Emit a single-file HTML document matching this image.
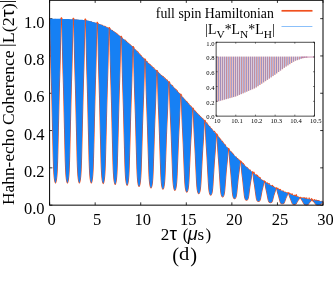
<!DOCTYPE html>
<html><head><meta charset="utf-8"><title>Hahn-echo Coherence</title>
<style>
html,body{margin:0;padding:0;background:#fff;}
body{width:333px;height:290px;overflow:hidden;position:relative;font-family:"Liberation Serif",serif;}
</style></head><body>
<svg width="333" height="290" viewBox="0 0 333 290" style="position:absolute;left:0;top:0;will-change:transform"><g stroke="#000" stroke-width="0.8" fill="none"><line x1="49.60" y1="205.15" x2="49.60" y2="202.35"/><line x1="49.60" y1="0.3" x2="49.60" y2="2.9"/><line x1="95.17" y1="205.15" x2="95.17" y2="202.35"/><line x1="95.17" y1="0.3" x2="95.17" y2="2.9"/><line x1="140.73" y1="205.15" x2="140.73" y2="202.35"/><line x1="140.73" y1="0.3" x2="140.73" y2="2.9"/><line x1="186.30" y1="205.15" x2="186.30" y2="202.35"/><line x1="186.30" y1="0.3" x2="186.30" y2="2.9"/><line x1="231.87" y1="205.15" x2="231.87" y2="202.35"/><line x1="231.87" y1="0.3" x2="231.87" y2="2.9"/><line x1="277.43" y1="205.15" x2="277.43" y2="202.35"/><line x1="277.43" y1="0.3" x2="277.43" y2="2.9"/><line x1="323.00" y1="205.15" x2="323.00" y2="202.35"/><line x1="323.00" y1="0.3" x2="323.00" y2="2.9"/><line x1="49.6" y1="205.15" x2="52.4" y2="205.15"/><line x1="323.0" y1="205.15" x2="320.2" y2="205.15"/><line x1="49.6" y1="167.85" x2="52.4" y2="167.85"/><line x1="323.0" y1="167.85" x2="320.2" y2="167.85"/><line x1="49.6" y1="130.55" x2="52.4" y2="130.55"/><line x1="323.0" y1="130.55" x2="320.2" y2="130.55"/><line x1="49.6" y1="93.25" x2="52.4" y2="93.25"/><line x1="323.0" y1="93.25" x2="320.2" y2="93.25"/><line x1="49.6" y1="55.95" x2="52.4" y2="55.95"/><line x1="323.0" y1="55.95" x2="320.2" y2="55.95"/><line x1="49.6" y1="18.65" x2="52.4" y2="18.65"/><line x1="323.0" y1="18.65" x2="320.2" y2="18.65"/></g><path d="M49.92,18.61L50.03,24.09L50.13,29.57L50.23,35.05L50.33,40.54L50.45,46.02L50.57,51.50L50.69,56.98L50.83,62.46L50.97,67.94L51.13,73.42L51.30,78.90L51.46,84.39L51.61,89.87L51.76,95.35L51.90,100.83L52.03,106.31L52.15,111.79L52.28,117.26L52.40,122.74L52.53,128.22L52.66,133.70L52.79,139.18L52.92,144.66L53.05,150.14L53.18,155.61L53.33,161.09L53.52,166.57L53.57,167.66L53.62,168.76L53.67,169.86L53.73,170.95L53.79,172.05L53.86,173.14L53.93,174.24L54.02,175.33L54.11,176.43L54.22,177.52L54.35,178.62L54.50,179.71L54.69,180.81L54.97,181.90L55.47,183.00L55.47,183.00L55.97,181.91L56.25,180.81L56.44,179.72L56.59,178.62L56.72,177.53L56.83,176.43L56.92,175.34L57.01,174.24L57.08,173.15L57.15,172.05L57.21,170.96L57.27,169.86L57.32,168.77L57.37,167.67L57.41,166.58L57.61,161.11L57.76,155.63L57.89,150.16L58.02,144.69L58.15,139.22L58.28,133.74L58.41,128.27L58.54,122.80L58.66,117.33L58.79,111.86L58.91,106.39L59.04,100.92L59.18,95.45L59.33,89.98L59.48,84.51L59.64,79.04L59.81,73.57L59.97,68.10L60.11,62.63L60.25,57.16L60.37,51.69L60.49,46.23L60.61,40.76L60.71,35.29L60.81,29.82L60.91,24.35L61.02,18.89M61.86,18.91L61.97,24.38L62.07,29.86L62.16,35.33L62.27,40.80L62.39,46.27L62.51,51.74L62.63,57.21L62.77,62.69L62.91,68.16L63.07,73.63L63.24,79.10L63.40,84.57L63.55,90.04L63.70,95.51L63.84,100.98L63.97,106.45L64.09,111.92L64.22,117.39L64.34,122.86L64.47,128.33L64.60,133.80L64.73,139.26L64.86,144.73L64.99,150.20L65.12,155.67L65.27,161.13L65.47,166.60L65.51,167.69L65.56,168.79L65.61,169.88L65.67,170.97L65.73,172.07L65.80,173.16L65.87,174.25L65.96,175.35L66.05,176.44L66.16,177.53L66.29,178.63L66.44,179.72L66.63,180.81L66.91,181.91L67.41,183.00L67.41,183.00L67.91,181.91L68.19,180.81L68.38,179.72L68.53,178.63L68.66,177.54L68.77,176.44L68.86,175.35L68.95,174.26L69.02,173.17L69.09,172.08L69.15,170.98L69.21,169.89L69.26,168.80L69.31,167.71L69.35,166.61L69.55,161.15L69.70,155.69L69.83,150.23L69.96,144.77L70.09,139.31L70.22,133.85L70.35,128.39L70.48,122.93L70.60,117.47L70.73,112.01L70.85,106.55L70.98,101.10L71.12,95.64L71.27,90.18L71.42,84.73L71.58,79.27L71.75,73.82L71.91,68.36L72.05,62.91L72.19,57.45L72.31,52.00L72.43,46.54L72.55,41.09L72.66,35.64L72.75,30.18L72.85,24.73L72.95,19.28M73.80,19.31L73.91,24.78L74.01,30.24L74.10,35.70L74.21,41.16L74.33,46.62L74.45,52.08L74.57,57.54L74.71,63.00L74.85,68.46L75.01,73.92L75.18,79.37L75.34,84.83L75.49,90.29L75.64,95.75L75.78,101.21L75.91,106.66L76.03,112.12L76.16,117.57L76.28,123.03L76.41,128.48L76.54,133.94L76.67,139.39L76.80,144.84L76.93,150.30L77.06,155.75L77.21,161.20L77.41,166.65L77.45,167.74L77.50,168.83L77.55,169.92L77.61,171.01L77.67,172.10L77.74,173.19L77.81,174.28L77.90,175.37L77.99,176.46L78.10,177.55L78.23,178.64L78.38,179.73L78.57,180.82L78.85,181.91L79.35,183.00L79.35,183.00L79.85,181.91L80.13,180.82L80.32,179.73L80.47,178.65L80.60,177.56L80.71,176.47L80.80,175.38L80.89,174.29L80.96,173.21L81.03,172.12L81.09,171.03L81.15,169.94L81.20,168.85L81.25,167.77L81.29,166.68L81.49,161.24L81.64,155.80L81.77,150.36L81.90,144.93L82.03,139.49L82.16,134.06L82.29,128.62L82.42,123.19L82.54,117.76L82.67,112.33L82.79,106.90L82.92,101.47L83.06,96.04L83.21,90.61L83.36,85.18L83.52,79.76L83.69,74.34L83.85,68.92L83.99,63.50L84.13,58.07L84.25,52.65L84.37,47.23L84.49,41.81L84.59,36.39L84.69,30.97L84.79,25.56L84.89,20.14M85.74,20.25L85.85,25.69L85.95,31.12L86.04,36.56L86.15,42.00L86.27,47.44L86.39,52.88L86.51,58.31L86.65,63.75L86.79,69.19L86.95,74.63L87.12,80.07L87.28,85.50L87.43,90.94L87.58,96.37L87.72,101.80L87.85,107.22L87.97,112.65L88.10,118.07L88.22,123.49L88.35,128.91L88.48,134.33L88.61,139.74L88.74,145.16L88.87,150.57L89.00,155.98L89.15,161.39L89.34,166.80L89.39,167.88L89.44,168.96L89.49,170.04L89.55,171.12L89.61,172.20L89.68,173.28L89.75,174.36L89.84,175.44L89.93,176.52L90.04,177.60L90.17,178.68L90.32,179.76L90.51,180.84L90.79,181.92L91.29,183.00L91.29,183.00L91.79,181.92L92.07,180.85L92.26,179.78L92.41,178.70L92.54,177.63L92.65,176.56L92.74,175.48L92.83,174.41L92.90,173.34L92.97,172.27L93.03,171.19L93.09,170.12L93.14,169.05L93.19,167.98L93.23,166.91L93.43,161.55L93.58,156.20L93.71,150.85L93.84,145.50L93.97,140.15L94.10,134.81L94.23,129.46L94.36,124.13L94.48,118.79L94.61,113.46L94.73,108.13L94.86,102.80L95.00,97.48L95.15,92.16L95.30,86.85L95.46,81.54L95.63,76.23L95.79,70.93L95.93,65.63L96.07,60.33L96.19,55.03L96.31,49.73L96.43,44.43L96.53,39.13L96.63,33.83L96.73,28.54L96.83,23.25M97.68,23.53L97.79,28.90L97.89,34.26L97.98,39.63L98.09,44.99L98.21,50.35L98.33,55.72L98.45,61.08L98.59,66.44L98.73,71.80L98.89,77.16L99.06,82.52L99.22,87.87L99.37,93.22L99.52,98.57L99.66,103.91L99.79,109.24L99.91,114.57L100.04,119.90L100.16,125.22L100.29,130.55L100.42,135.86L100.55,141.18L100.68,146.49L100.81,151.80L100.94,157.11L101.09,162.41L101.28,167.71L101.33,168.77L101.38,169.83L101.43,170.89L101.49,171.95L101.55,173.01L101.62,174.07L101.69,175.13L101.78,176.19L101.87,177.24L101.98,178.30L102.11,179.36L102.26,180.42L102.45,181.47L102.73,182.53L103.23,183.58L103.23,183.58L103.73,182.53L104.01,181.48L104.20,180.43L104.35,179.39L104.48,178.34L104.59,177.29L104.68,176.25L104.77,175.20L104.84,174.15L104.91,173.11L104.97,172.06L105.03,171.02L105.08,169.97L105.13,168.93L105.17,167.88L105.37,162.66L105.52,157.44L105.65,152.22L105.78,147.01L105.91,141.80L106.04,136.60L106.17,131.40L106.30,126.21L106.42,121.02L106.55,115.83L106.67,110.65L106.80,105.47L106.94,100.30L107.09,95.14L107.24,89.98L107.40,84.83L107.57,79.69L107.73,74.55L107.87,69.42L108.01,64.28L108.13,59.15L108.25,54.01L108.37,48.88L108.47,43.75L108.57,38.62L108.67,33.50L108.77,28.38M109.62,28.85L109.73,34.09L109.83,39.33L109.92,44.57L110.03,49.80L110.15,55.04L110.27,60.27L110.39,65.51L110.53,70.74L110.67,75.97L110.83,81.21L111.00,86.43L111.16,91.66L111.31,96.87L111.46,102.07L111.60,107.27L111.73,112.45L111.85,117.63L111.98,122.81L112.10,127.98L112.23,133.14L112.36,138.30L112.49,143.46L112.62,148.61L112.75,153.75L112.88,158.88L113.03,164.02L113.22,169.14L113.27,170.17L113.32,171.19L113.37,172.22L113.43,173.24L113.49,174.27L113.56,175.29L113.63,176.31L113.72,177.34L113.81,178.36L113.92,179.38L114.05,180.40L114.20,181.42L114.39,182.44L114.67,183.46L115.17,184.48L115.17,184.48L115.67,183.47L115.95,182.46L116.14,181.45L116.29,180.45L116.42,179.44L116.53,178.44L116.62,177.44L116.71,176.44L116.78,175.44L116.85,174.44L116.91,173.43L116.97,172.43L117.02,171.44L117.07,170.44L117.11,169.44L117.31,164.44L117.46,159.46L117.59,154.47L117.72,149.50L117.85,144.53L117.98,139.56L118.11,134.61L118.24,129.66L118.36,124.71L118.49,119.78L118.61,114.84L118.74,109.92L118.88,105.01L119.03,100.11L119.18,95.22L119.34,90.34L119.51,85.47L119.67,80.61L119.81,75.75L119.95,70.89L120.07,66.03L120.19,61.18L120.31,56.32L120.41,51.47L120.51,46.62L120.61,41.77L120.71,36.93M121.56,37.59L121.67,42.60L121.77,47.59L121.86,52.58L121.97,57.58L122.09,62.57L122.21,67.55L122.33,72.54L122.47,77.52L122.61,82.51L122.77,87.49L122.94,92.47L123.10,97.43L123.25,102.39L123.40,107.33L123.54,112.27L123.67,117.19L123.79,122.10L123.92,127.01L124.04,131.91L124.17,136.80L124.30,141.69L124.43,146.57L124.56,151.45L124.69,156.31L124.82,161.17L124.97,166.03L125.17,170.88L125.21,171.85L125.26,172.82L125.31,173.79L125.37,174.76L125.43,175.72L125.50,176.69L125.57,177.66L125.66,178.63L125.75,179.59L125.86,180.56L125.99,181.52L126.14,182.49L126.33,183.45L126.61,184.41L127.11,185.37L127.11,185.37L127.61,184.41L127.89,183.47L128.08,182.52L128.23,181.57L128.36,180.63L128.47,179.68L128.56,178.74L128.65,177.80L128.72,176.86L128.79,175.91L128.85,174.97L128.91,174.03L128.96,173.09L129.01,172.15L129.06,171.21L129.25,166.52L129.40,161.82L129.53,157.14L129.66,152.46L129.79,147.79L129.92,143.13L130.05,138.47L130.18,133.83L130.30,129.19L130.43,124.56L130.55,119.93L130.68,115.31L130.82,110.71L130.97,106.12L131.12,101.54L131.28,96.98L131.45,92.43L131.61,87.88L131.75,83.34L131.89,78.80L132.01,74.26L132.13,69.72L132.25,65.18L132.35,60.65L132.45,56.12L132.55,51.59L132.66,47.08M133.51,47.88L133.61,52.60L133.71,57.31L133.81,62.01L133.91,66.71L134.03,71.42L134.15,76.12L134.27,80.81L134.41,85.51L134.55,90.21L134.71,94.90L134.88,99.59L135.04,104.26L135.19,108.92L135.34,113.57L135.48,118.20L135.61,122.82L135.73,127.43L135.86,132.03L135.98,136.62L136.11,141.21L136.24,145.78L136.37,150.35L136.50,154.90L136.63,159.45L136.76,163.99L136.91,168.53L137.11,173.05L137.15,173.96L137.20,174.86L137.25,175.76L137.31,176.67L137.37,177.57L137.44,178.47L137.51,179.37L137.60,180.28L137.69,181.18L137.80,182.08L137.93,182.97L138.08,183.87L138.27,184.77L138.55,185.66L139.05,186.55L139.05,186.55L139.55,185.67L139.83,184.79L140.02,183.91L140.17,183.04L140.30,182.17L140.41,181.29L140.50,180.42L140.59,179.55L140.66,178.68L140.73,177.81L140.79,176.94L140.85,176.08L140.90,175.21L140.95,174.34L141.00,173.47L141.19,169.14L141.34,164.82L141.47,160.50L141.60,156.19L141.73,151.89L141.86,147.60L141.99,143.32L142.12,139.05L142.24,134.79L142.37,130.53L142.49,126.28L142.62,122.05L142.76,117.82L142.91,113.62L143.06,109.43L143.22,105.25L143.39,101.08L143.55,96.93L143.69,92.77L143.83,88.61L143.95,84.46L144.07,80.31L144.19,76.16L144.30,72.01L144.39,67.87L144.49,63.72L144.59,59.59M145.45,60.44L145.55,64.80L145.65,69.14L145.75,73.47L145.85,77.81L145.97,82.14L146.09,86.47L146.21,90.80L146.35,95.12L146.49,99.45L146.65,103.77L146.82,108.08L146.98,112.39L147.13,116.67L147.28,120.95L147.42,125.21L147.55,129.46L147.67,133.69L147.80,137.92L147.92,142.14L148.05,146.36L148.18,150.56L148.31,154.76L148.44,158.95L148.57,163.13L148.70,167.30L148.85,171.47L149.05,175.63L149.09,176.46L149.14,177.29L149.19,178.13L149.25,178.96L149.31,179.79L149.38,180.62L149.45,181.44L149.54,182.27L149.63,183.10L149.74,183.93L149.87,184.75L150.02,185.58L150.21,186.40L150.49,187.22L150.99,188.04L150.99,188.04L151.49,187.23L151.77,186.42L151.96,185.62L152.11,184.81L152.24,184.01L152.35,183.20L152.44,182.40L152.53,181.60L152.60,180.80L152.67,180.00L152.73,179.20L152.79,178.40L152.84,177.60L152.89,176.80L152.94,176.00L153.13,172.01L153.28,168.02L153.41,164.04L153.54,160.07L153.67,156.11L153.80,152.15L153.93,148.21L154.06,144.27L154.18,140.33L154.31,136.41L154.43,132.49L154.56,128.58L154.70,124.69L154.85,120.81L155.00,116.94L155.16,113.08L155.33,109.24L155.49,105.40L155.63,101.57L155.77,97.73L155.89,93.90L156.01,90.07L156.13,86.24L156.24,82.42L156.33,78.59L156.43,74.77L156.53,70.96M157.39,71.76L157.49,75.77L157.59,79.77L157.69,83.76L157.79,87.75L157.91,91.74L158.03,95.73L158.15,99.72L158.29,103.70L158.43,107.68L158.59,111.67L158.76,115.64L158.92,119.60L159.07,123.55L159.22,127.49L159.36,131.41L159.49,135.32L159.61,139.22L159.74,143.11L159.86,147.00L159.99,150.88L160.12,154.75L160.25,158.61L160.38,162.47L160.51,166.32L160.64,170.16L160.79,173.99L160.99,177.82L161.03,178.59L161.08,179.35L161.13,180.12L161.19,180.88L161.25,181.65L161.32,182.41L161.39,183.17L161.48,183.93L161.57,184.70L161.68,185.46L161.81,186.22L161.96,186.98L162.15,187.73L162.43,188.49L162.93,189.24L162.93,189.24L163.43,188.50L163.71,187.75L163.90,187.01L164.05,186.27L164.18,185.53L164.29,184.79L164.38,184.06L164.47,183.32L164.54,182.58L164.61,181.85L164.67,181.11L164.73,180.38L164.78,179.64L164.83,178.91L164.88,178.18L165.07,174.51L165.22,170.85L165.35,167.20L165.48,163.55L165.61,159.91L165.74,156.28L165.87,152.66L166.00,149.04L166.12,145.44L166.25,141.84L166.37,138.25L166.50,134.66L166.64,131.10L166.79,127.54L166.94,124.00L167.10,120.47L167.27,116.96L167.43,113.45L167.57,109.94L167.71,106.44L167.83,102.93L167.95,99.43L168.07,95.94L168.18,92.44L168.27,88.95L168.37,85.46L168.47,81.98M169.33,82.82L169.43,86.51L169.53,90.19L169.62,93.86L169.73,97.53L169.85,101.20L169.97,104.86L170.09,108.53L170.23,112.19L170.37,115.85L170.53,119.51L170.70,123.16L170.86,126.80L171.01,130.42L171.16,134.04L171.30,137.63L171.43,141.22L171.55,144.79L171.68,148.35L171.80,151.90L171.93,155.45L172.06,158.99L172.19,162.52L172.32,166.04L172.45,169.55L172.58,173.05L172.73,176.55L172.93,180.04L172.97,180.74L173.02,181.43L173.07,182.13L173.13,182.82L173.19,183.52L173.26,184.21L173.33,184.91L173.42,185.60L173.51,186.30L173.62,186.99L173.75,187.68L173.90,188.37L174.09,189.06L174.37,189.74L174.87,190.43L174.87,190.43L175.37,189.75L175.65,189.08L175.84,188.41L175.99,187.74L176.12,187.08L176.23,186.41L176.32,185.75L176.41,185.09L176.48,184.42L176.55,183.76L176.61,183.10L176.67,182.44L176.72,181.78L176.77,181.12L176.81,180.46L177.01,177.17L177.16,173.88L177.29,170.60L177.42,167.33L177.55,164.07L177.68,160.82L177.81,157.57L177.94,154.34L178.06,151.12L178.19,147.90L178.31,144.69L178.44,141.50L178.58,138.32L178.73,135.15L178.88,132.01L179.04,128.87L179.21,125.75L179.37,122.64L179.51,119.53L179.65,116.43L179.77,113.32L179.89,110.22L180.01,107.12L180.12,104.02L180.21,100.92L180.31,97.83L180.41,94.75M181.27,95.69L181.37,99.02L181.47,102.34L181.56,105.64L181.67,108.95L181.79,112.26L181.91,115.57L182.03,118.87L182.17,122.17L182.31,125.47L182.47,128.76L182.64,132.05L182.80,135.33L182.95,138.58L183.10,141.83L183.24,145.06L183.37,148.27L183.49,151.47L183.62,154.66L183.74,157.84L183.87,161.01L184.00,164.18L184.13,167.33L184.26,170.47L184.39,173.61L184.52,176.73L184.67,179.85L184.87,182.96L184.91,183.58L184.96,184.20L185.01,184.82L185.07,185.44L185.13,186.06L185.20,186.68L185.27,187.30L185.36,187.92L185.45,188.53L185.56,189.15L185.69,189.76L185.84,190.38L186.03,190.99L186.31,191.60L186.81,192.20L186.81,192.20L187.31,191.61L187.59,191.01L187.78,190.42L187.93,189.83L188.06,189.25L188.17,188.66L188.26,188.07L188.35,187.49L188.42,186.90L188.49,186.32L188.55,185.74L188.61,185.15L188.66,184.57L188.71,183.99L188.75,183.41L188.95,180.51L189.10,177.61L189.23,174.72L189.36,171.84L189.49,168.97L189.62,166.11L189.75,163.26L189.88,160.42L190.00,157.59L190.13,154.77L190.25,151.95L190.38,149.15L190.52,146.36L190.67,143.59L190.82,140.84L190.98,138.10L191.15,135.37L191.31,132.65L191.45,129.94L191.59,127.22L191.71,124.51L191.83,121.80L191.95,119.09L192.06,116.39L192.15,113.68L192.25,110.98L192.35,108.30M193.21,109.22L193.31,112.15L193.41,115.06L193.50,117.96L193.61,120.87L193.73,123.77L193.85,126.67L193.97,129.57L194.11,132.46L194.25,135.35L194.41,138.24L194.58,141.13L194.74,144.00L194.89,146.85L195.04,149.69L195.18,152.51L195.31,155.32L195.43,158.12L195.56,160.91L195.68,163.69L195.81,166.46L195.94,169.23L196.07,171.98L196.20,174.73L196.33,177.47L196.46,180.20L196.61,182.92L196.81,185.64L196.85,186.18L196.90,186.72L196.95,187.26L197.01,187.80L197.07,188.34L197.14,188.88L197.21,189.42L197.30,189.96L197.39,190.50L197.50,191.04L197.63,191.58L197.78,192.11L197.97,192.65L198.25,193.18L198.75,193.71L198.75,193.71L199.25,193.19L199.53,192.67L199.72,192.15L199.87,191.64L200.00,191.13L200.11,190.61L200.20,190.10L200.29,189.59L200.36,189.08L200.43,188.57L200.49,188.06L200.55,187.56L200.60,187.05L200.65,186.54L200.69,186.03L200.89,183.50L201.04,180.98L201.17,178.46L201.30,175.95L201.43,173.44L201.56,170.95L201.69,168.47L201.82,165.99L201.94,163.53L202.07,161.07L202.19,158.62L202.32,156.18L202.46,153.75L202.61,151.34L202.76,148.95L202.92,146.57L203.09,144.20L203.25,141.84L203.39,139.49L203.53,137.13L203.65,134.78L203.77,132.43L203.89,130.09L204.00,127.74L204.09,125.40L204.19,123.06L204.29,120.74M205.15,121.66L205.25,124.22L205.35,126.77L205.44,129.31L205.55,131.85L205.67,134.39L205.79,136.93L205.91,139.46L206.05,142.00L206.19,144.53L206.35,147.06L206.52,149.58L206.68,152.09L206.83,154.58L206.98,157.06L207.12,159.52L207.25,161.96L207.37,164.40L207.50,166.82L207.62,169.24L207.75,171.65L207.88,174.05L208.01,176.43L208.14,178.81L208.27,181.18L208.40,183.54L208.55,185.89L208.75,188.24L208.79,188.71L208.84,189.18L208.89,189.64L208.95,190.11L209.01,190.58L209.08,191.04L209.15,191.51L209.24,191.97L209.33,192.44L209.44,192.90L209.57,193.36L209.72,193.82L209.91,194.28L210.19,194.74L210.69,195.19L210.69,195.19L211.19,194.75L211.47,194.31L211.66,193.87L211.81,193.43L211.94,193.00L212.05,192.56L212.14,192.13L212.23,191.70L212.30,191.27L212.37,190.84L212.43,190.41L212.49,189.98L212.54,189.55L212.59,189.12L212.63,188.69L212.83,186.55L212.98,184.42L213.11,182.30L213.24,180.19L213.37,178.08L213.50,175.99L213.63,173.91L213.76,171.83L213.88,169.77L214.01,167.72L214.13,165.67L214.26,163.64L214.40,161.62L214.55,159.62L214.70,157.64L214.86,155.67L215.03,153.72L215.19,151.77L215.33,149.83L215.47,147.89L215.59,145.96L215.71,144.02L215.83,142.09L215.94,140.16L216.03,138.23L216.13,136.31L216.23,134.40M217.09,135.40L217.19,137.57L217.29,139.73L217.38,141.88L217.49,144.03L217.61,146.18L217.73,148.32L217.85,150.46L217.99,152.60L218.13,154.74L218.29,156.88L218.46,159.01L218.62,161.12L218.77,163.22L218.92,165.30L219.06,167.37L219.19,169.41L219.31,171.44L219.44,173.47L219.56,175.48L219.69,177.49L219.82,179.49L219.95,181.47L220.08,183.44L220.21,185.41L220.34,187.36L220.49,189.31L220.69,191.25L220.73,191.63L220.78,192.02L220.83,192.41L220.89,192.79L220.95,193.18L221.02,193.56L221.09,193.94L221.18,194.33L221.27,194.71L221.38,195.09L221.51,195.47L221.66,195.85L221.85,196.22L222.13,196.60L222.63,196.97L222.63,196.97L223.13,196.61L223.41,196.25L223.60,195.90L223.75,195.54L223.88,195.19L223.99,194.84L224.08,194.49L224.17,194.14L224.24,193.80L224.31,193.45L224.37,193.10L224.43,192.76L224.48,192.41L224.53,192.07L224.57,191.72L224.77,190.01L224.92,188.29L225.05,186.59L225.18,184.90L225.31,183.21L225.44,181.54L225.57,179.88L225.70,178.23L225.82,176.58L225.95,174.95L226.07,173.33L226.20,171.71L226.34,170.12L226.49,168.54L226.64,166.97L226.80,165.42L226.97,163.89L227.13,162.37L227.27,160.84L227.41,159.32L227.53,157.80L227.65,156.28L227.77,154.77L227.88,153.25L227.97,151.74L228.07,150.23L228.17,148.74M229.03,149.68L229.13,151.43L229.23,153.17L229.32,154.89L229.43,156.62L229.55,158.35L229.67,160.07L229.79,161.79L229.93,163.50L230.07,165.22L230.23,166.93L230.40,168.64L230.56,170.33L230.71,172.00L230.86,173.67L231.00,175.31L231.13,176.94L231.25,178.56L231.38,180.17L231.50,181.77L231.63,183.36L231.76,184.94L231.89,186.52L232.02,188.08L232.15,189.64L232.28,191.18L232.43,192.72L232.62,194.25L232.67,194.56L232.72,194.87L232.77,195.17L232.83,195.47L232.89,195.78L232.96,196.08L233.03,196.39L233.12,196.69L233.21,196.99L233.32,197.29L233.45,197.59L233.60,197.89L233.79,198.19L234.07,198.48L234.57,198.77L234.57,198.77L235.07,198.49L235.35,198.21L235.54,197.93L235.69,197.65L235.82,197.38L235.93,197.10L236.02,196.83L236.11,196.56L236.18,196.28L236.25,196.01L236.31,195.74L236.37,195.47L236.42,195.20L236.47,194.93L236.51,194.66L236.71,193.31L236.86,191.98L236.99,190.64L237.12,189.32L237.25,188.00L237.38,186.70L237.51,185.40L237.64,184.11L237.76,182.83L237.89,181.55L238.01,180.29L238.14,179.03L238.28,177.79L238.43,176.56L238.58,175.35L238.74,174.15L238.91,172.96L239.07,171.78L239.21,170.60L239.35,169.42L239.47,168.24L239.59,167.07L239.71,165.89L239.81,164.72L239.91,163.55L240.01,162.39L240.11,161.23M240.97,162.06L241.07,163.43L241.17,164.78L241.26,166.14L241.37,167.49L241.49,168.84L241.61,170.19L241.73,171.54L241.87,172.88L242.01,174.23L242.17,175.57L242.34,176.90L242.50,178.22L242.65,179.53L242.80,180.83L242.94,182.11L243.07,183.38L243.19,184.64L243.32,185.89L243.44,187.13L243.57,188.37L243.70,189.60L243.83,190.82L243.96,192.03L244.09,193.23L244.22,194.43L244.37,195.62L244.56,196.80L244.61,197.04L244.66,197.28L244.71,197.51L244.77,197.75L244.83,197.98L244.90,198.22L244.97,198.45L245.06,198.68L245.15,198.92L245.26,199.15L245.39,199.38L245.54,199.61L245.73,199.84L246.01,200.07L246.51,200.29L246.51,200.29L247.01,200.07L247.29,199.86L247.48,199.64L247.63,199.43L247.76,199.22L247.87,199.01L247.96,198.81L248.05,198.60L248.12,198.39L248.19,198.18L248.25,197.98L248.31,197.77L248.36,197.56L248.41,197.36L248.45,197.15L248.65,196.13L248.80,195.11L248.93,194.10L249.06,193.10L249.19,192.10L249.32,191.11L249.45,190.13L249.58,189.15L249.70,188.18L249.83,187.22L249.95,186.27L250.08,185.32L250.22,184.39L250.37,183.47L250.52,182.55L250.68,181.66L250.85,180.77L251.01,179.89L251.15,179.01L251.29,178.13L251.41,177.25L251.53,176.37L251.65,175.50L251.75,174.63L251.85,173.75L251.95,172.89L252.05,172.03M252.91,172.74L253.01,173.78L253.11,174.81L253.20,175.84L253.31,176.87L253.43,177.89L253.55,178.92L253.67,179.94L253.81,180.96L253.95,181.98L254.11,182.99L254.28,184.00L254.44,185.00L254.59,185.99L254.74,186.97L254.88,187.94L255.01,188.89L255.13,189.83L255.26,190.77L255.38,191.70L255.51,192.63L255.64,193.55L255.77,194.46L255.90,195.36L256.03,196.26L256.16,197.15L256.31,198.04L256.50,198.92L256.55,199.09L256.60,199.27L256.65,199.44L256.71,199.62L256.77,199.79L256.84,199.97L256.91,200.14L257.00,200.31L257.09,200.48L257.20,200.66L257.33,200.83L257.48,201.00L257.67,201.16L257.95,201.33L258.45,201.50L258.45,201.50L258.95,201.34L259.23,201.18L259.42,201.03L259.57,200.87L259.70,200.72L259.81,200.57L259.90,200.42L259.99,200.27L260.06,200.12L260.13,199.97L260.19,199.82L260.25,199.67L260.30,199.52L260.35,199.37L260.39,199.22L260.59,198.49L260.74,197.75L260.87,197.02L261.00,196.30L261.13,195.58L261.26,194.88L261.39,194.17L261.52,193.47L261.64,192.78L261.77,192.10L261.89,191.41L262.02,190.74L262.16,190.08L262.31,189.42L262.46,188.78L262.62,188.15L262.79,187.52L262.95,186.90L263.09,186.28L263.23,185.66L263.35,185.04L263.47,184.42L263.59,183.81L263.69,183.19L263.79,182.58L263.89,181.97L264.00,181.36M264.84,181.93L264.95,182.68L265.05,183.43L265.14,184.18L265.25,184.93L265.37,185.67L265.49,186.41L265.61,187.15L265.75,187.89L265.89,188.63L266.05,189.37L266.22,190.10L266.38,190.82L266.53,191.54L266.68,192.24L266.82,192.94L266.95,193.63L267.07,194.31L267.20,194.99L267.32,195.66L267.45,196.32L267.58,196.98L267.71,197.64L267.84,198.29L267.97,198.93L268.10,199.57L268.25,200.21L268.44,200.84L268.49,200.97L268.54,201.09L268.59,201.22L268.65,201.34L268.71,201.47L268.78,201.59L268.85,201.72L268.94,201.84L269.03,201.97L269.14,202.09L269.27,202.21L269.42,202.33L269.61,202.46L269.89,202.58L270.39,202.69L270.39,202.69L270.89,202.58L271.17,202.47L271.36,202.36L271.51,202.25L271.64,202.14L271.75,202.03L271.84,201.92L271.93,201.81L272.00,201.71L272.07,201.60L272.13,201.49L272.19,201.38L272.24,201.28L272.29,201.17L272.33,201.07L272.53,200.54L272.68,200.01L272.81,199.49L272.94,198.97L273.07,198.46L273.20,197.95L273.33,197.45L273.46,196.95L273.58,196.45L273.71,195.96L273.83,195.47L273.96,194.99L274.10,194.51L274.25,194.04L274.40,193.58L274.56,193.13L274.73,192.68L274.89,192.24L275.03,191.79L275.17,191.35L275.29,190.91L275.41,190.46L275.53,190.02L275.63,189.58L275.73,189.14L275.83,188.71L275.94,188.28M276.78,188.68L276.89,189.24L276.99,189.78L277.08,190.32L277.19,190.87L277.31,191.41L277.43,191.95L277.55,192.49L277.69,193.03L277.83,193.57L277.99,194.10L278.16,194.64L278.32,195.16L278.47,195.68L278.62,196.20L278.76,196.70L278.89,197.21L279.01,197.70L279.14,198.19L279.26,198.68L279.39,199.17L279.52,199.65L279.65,200.13L279.78,200.60L279.91,201.07L280.04,201.54L280.19,202.01L280.38,202.47L280.43,202.56L280.48,202.65L280.53,202.74L280.59,202.83L280.65,202.93L280.72,203.02L280.79,203.11L280.88,203.20L280.97,203.29L281.08,203.38L281.21,203.47L281.36,203.56L281.55,203.65L281.83,203.73L282.33,203.82L282.33,203.82L282.83,203.74L283.11,203.65L283.30,203.57L283.45,203.49L283.58,203.41L283.69,203.33L283.78,203.25L283.87,203.17L283.94,203.09L284.01,203.02L284.07,202.94L284.13,202.86L284.18,202.78L284.23,202.70L284.27,202.63L284.47,202.24L284.62,201.85L284.75,201.47L284.88,201.09L285.01,200.71L285.14,200.34L285.27,199.97L285.40,199.60L285.52,199.24L285.65,198.88L285.77,198.52L285.90,198.17L286.04,197.82L286.19,197.47L286.34,197.14L286.50,196.80L286.67,196.48L286.83,196.15L286.97,195.83L287.11,195.50L287.23,195.18L287.35,194.86L287.47,194.54L287.57,194.22L287.67,193.90L287.77,193.58L287.88,193.26M288.72,193.59L288.83,193.99L288.93,194.38L289.02,194.77L289.13,195.17L289.25,195.56L289.37,195.95L289.49,196.35L289.63,196.74L289.77,197.13L289.93,197.51L290.10,197.90L290.26,198.28L290.41,198.66L290.56,199.03L290.70,199.40L290.83,199.76L290.95,200.11L291.08,200.47L291.20,200.82L291.33,201.16L291.46,201.51L291.59,201.85L291.72,202.18L291.85,202.52L291.98,202.85L292.13,203.18L292.32,203.50L292.37,203.57L292.42,203.63L292.47,203.70L292.53,203.76L292.59,203.82L292.66,203.89L292.73,203.95L292.82,204.02L292.91,204.08L293.02,204.14L293.15,204.21L293.30,204.27L293.49,204.33L293.77,204.39L294.27,204.45L294.27,204.45L294.77,204.39L295.05,204.34L295.24,204.28L295.39,204.23L295.52,204.17L295.63,204.12L295.72,204.07L295.81,204.01L295.88,203.96L295.95,203.91L296.01,203.85L296.07,203.80L296.12,203.75L296.17,203.70L296.21,203.65L296.41,203.39L296.56,203.13L296.69,202.87L296.82,202.62L296.95,202.37L297.08,202.12L297.21,201.88L297.34,201.64L297.46,201.40L297.59,201.16L297.71,200.92L297.84,200.69L297.98,200.46L298.13,200.24L298.28,200.02L298.44,199.81L298.61,199.59L298.77,199.38L298.91,199.17L299.05,198.96L299.17,198.75L299.29,198.54L299.41,198.33L299.51,198.13L299.61,197.92L299.71,197.71L299.81,197.50M300.66,197.72L300.77,197.98L300.87,198.24L300.96,198.50L301.07,198.75L301.19,199.01L301.31,199.27L301.43,199.52L301.57,199.78L301.71,200.03L301.87,200.29L302.04,200.54L302.20,200.79L302.35,201.03L302.50,201.27L302.64,201.51L302.77,201.75L302.89,201.98L303.02,202.22L303.14,202.45L303.27,202.68L303.40,202.90L303.53,203.13L303.66,203.35L303.79,203.58L303.92,203.80L304.07,204.02L304.26,204.23L304.31,204.28L304.36,204.32L304.41,204.36L304.47,204.41L304.53,204.45L304.60,204.49L304.67,204.54L304.76,204.58L304.85,204.62L304.96,204.66L305.09,204.71L305.24,204.75L305.43,204.79L305.71,204.83L306.21,204.87L306.21,204.87L306.71,204.83L306.99,204.79L307.18,204.76L307.33,204.72L307.46,204.68L307.57,204.64L307.66,204.60L307.75,204.56L307.82,204.53L307.89,204.49L307.95,204.45L308.01,204.41L308.06,204.38L308.11,204.34L308.15,204.30L308.35,204.12L308.50,203.93L308.63,203.75L308.76,203.56L308.89,203.38L309.02,203.20L309.15,203.02L309.28,202.85L309.40,202.67L309.53,202.50L309.65,202.32L309.78,202.15L309.92,201.98L310.07,201.81L310.22,201.65L310.38,201.49L310.55,201.33L310.71,201.17L310.85,201.01L310.99,200.85L311.11,200.69L311.23,200.54L311.35,200.38L311.45,200.22L311.55,200.06L311.65,199.91L311.75,199.76M312.60,199.90L312.71,200.09L312.81,200.28L312.90,200.46L313.01,200.65L313.13,200.84L313.25,201.02L313.37,201.21L313.51,201.39L313.65,201.58L313.81,201.76L313.98,201.95L314.14,202.13L314.29,202.30L314.44,202.48L314.58,202.65L314.71,202.83L314.83,202.99L314.96,203.16L315.08,203.33L315.21,203.50L315.34,203.66L315.47,203.82L315.60,203.98L315.73,204.14L315.86,204.30L316.01,204.46L316.20,204.61L316.25,204.64L316.30,204.68L316.35,204.71L316.41,204.74L316.47,204.77L316.54,204.80L316.61,204.83L316.70,204.86L316.79,204.89L316.90,204.92L317.03,204.95L317.18,204.98L317.37,205.01L317.65,205.04L318.15,205.07L318.15,205.07L318.65,205.04L318.93,205.01L319.12,204.99L319.27,204.96L319.40,204.93L319.51,204.91L319.60,204.88L319.69,204.86L319.76,204.83L319.83,204.80L319.89,204.78L319.95,204.75L320.00,204.73L320.05,204.70L320.09,204.68L320.29,204.55L320.44,204.43L320.57,204.30L320.70,204.18L320.83,204.06L320.96,203.94L321.09,203.82L321.22,203.70L321.34,203.58L321.47,203.47L321.59,203.36L321.72,203.24L321.86,203.13L322.01,203.03L322.16,202.92L322.32,202.82L322.49,202.72L322.65,202.62L322.79,202.52L322.93,202.42L323.00,202.31L323.00,202.20L323.00,202.08L323.00,201.97L323.00,201.85L323.00,201.74L323.00,201.62" fill="none" stroke="#f0501e" stroke-width="1.05" stroke-linejoin="round"/><path d="M59.84,19.40L60.99,17.22L61.89,17.22L63.04,19.40ZM71.78,19.79L72.93,17.64L73.83,17.64L74.98,19.79ZM83.72,20.69L84.87,18.56L85.77,18.56L86.92,20.69ZM95.66,23.89L96.81,21.78L97.71,21.78L98.86,23.89ZM107.60,29.11L108.75,27.03L109.65,27.03L110.80,29.11ZM119.54,37.76L120.69,35.70L121.59,35.70L122.74,37.76ZM131.48,47.98L132.63,45.94L133.53,45.94L134.68,47.98ZM143.42,60.52L144.57,58.51L145.47,58.51L146.62,60.52ZM155.36,71.86L156.51,69.88L157.41,69.88L158.56,71.86ZM167.30,82.90L168.45,80.96L169.35,80.96L170.50,82.90ZM179.24,95.72L180.39,93.82L181.29,93.82L182.44,95.72ZM191.18,109.26L192.33,107.39L193.23,107.39L194.38,109.26ZM203.12,121.69L204.27,119.86L205.17,119.86L206.32,121.69ZM215.06,135.40L216.21,133.60L217.11,133.60L218.26,135.40ZM227.00,149.71L228.15,147.95L229.05,147.95L230.20,149.71ZM238.94,162.15L240.09,160.42L240.99,160.42L242.14,162.15ZM250.88,172.88L252.03,171.20L252.93,171.20L254.08,172.88ZM262.82,182.15L263.97,180.53L264.87,180.53L266.02,182.15ZM274.76,188.98L275.91,187.43L276.81,187.43L277.96,188.98ZM286.70,193.92L287.85,192.43L288.75,192.43L289.90,193.92ZM298.64,198.11L299.79,196.69L300.69,196.69L301.84,198.11ZM310.58,200.33L311.73,198.97L312.63,198.97L313.78,200.33Z" fill="#f0501e" stroke="none"/><polyline points="49.60,19.75 49.90,19.68 50.20,19.44 50.50,19.28 50.80,19.35 51.10,19.47 51.40,19.47 51.70,19.46 52.00,19.48 52.30,19.42 52.60,19.43 52.90,19.66 53.20,19.86 53.50,19.86 53.80,19.69 54.10,19.52 54.40,19.42 54.70,19.45 55.00,19.58 55.30,19.48 55.60,19.41 55.90,19.64 56.20,19.85 56.50,19.72 56.80,19.51 57.10,19.56 57.40,19.71 57.70,19.67 58.00,19.58 58.30,19.68 58.60,19.93 58.90,19.95 59.20,19.66 59.50,19.53 59.80,19.45 60.10,19.34 60.40,19.43 60.70,19.66 61.00,19.86 61.30,19.75 61.60,19.63 61.90,19.77 62.20,19.70 62.50,19.54 62.80,19.61 63.10,19.67 63.40,19.70 63.70,19.66 64.00,19.56 64.30,19.76 64.60,20.06 64.90,20.15 65.20,20.18 65.50,20.23 65.80,20.12 66.10,19.94 66.40,19.86 66.70,19.72 67.00,19.63 67.30,19.75 67.60,20.08 67.90,20.22 68.20,20.17 68.50,20.18 68.80,20.05 69.10,20.01 69.40,20.00 69.70,19.95 70.00,20.17 70.30,20.29 70.60,20.13 70.90,20.13 71.20,20.26 71.50,20.37 71.80,20.35 72.10,20.30 72.40,20.30 72.70,20.15 73.00,20.10 73.30,20.19 73.60,20.13 73.90,20.20 74.20,20.27 74.50,20.19 74.80,20.30 75.10,20.44 75.40,20.31 75.70,19.99 76.00,19.81 76.30,19.97 76.60,20.18 76.90,20.20 77.20,20.25 77.50,20.36 77.80,20.37 78.10,20.44 78.40,20.49 78.70,20.40 79.00,20.56 79.30,20.86 79.60,20.73 79.90,20.45 80.20,20.54 80.50,20.77 80.80,20.86 81.10,20.74 81.40,20.58 81.70,20.63 82.00,20.80 82.30,20.82 82.60,20.74 82.90,20.74 83.20,20.84 83.50,20.91 83.80,20.91 84.10,21.02 84.40,21.15 84.70,21.06 85.00,21.03 85.30,21.13 85.60,21.10 85.90,21.07 86.20,20.95 86.50,20.91 86.80,21.16 87.10,21.32 87.40,21.35 87.70,21.36 88.00,21.30 88.30,21.32 88.60,21.60 88.90,21.91 89.20,21.87 89.50,21.75 89.80,21.80 90.10,21.80 90.40,21.90 90.70,22.06 91.00,21.95 91.30,21.82 91.60,22.00 91.90,22.27 92.20,22.51 92.50,22.61 92.80,22.60 93.10,22.73 93.40,22.83 93.70,22.88 94.00,23.04 94.30,23.05 94.60,23.06 94.90,23.17 95.20,23.16 95.50,23.26 95.80,23.46 96.10,23.52 96.40,23.53 96.70,23.63 97.00,23.83 97.30,23.95 97.60,23.93 97.90,23.99 98.20,24.02 98.50,24.23 98.80,24.62 99.10,24.51 99.40,24.42 99.70,24.66 100.00,24.72 100.30,24.89 100.60,25.06 100.90,25.00 101.20,25.03 101.50,25.17 101.80,25.23 102.10,25.18 102.40,25.33 102.70,25.71 103.00,26.05 103.30,26.28 103.60,26.46 103.90,26.42 104.20,26.33 104.50,26.29 104.80,26.25 105.10,26.39 105.40,26.68 105.70,27.03 106.00,27.22 106.30,27.21 106.60,27.19 106.90,27.29 107.20,27.60 107.50,27.91 107.80,28.02 108.10,28.21 108.40,28.61 108.70,28.76 109.00,28.63 109.30,28.64 109.60,28.84 109.90,29.07 110.20,29.29 110.50,29.54 110.80,29.84 111.10,30.11 111.40,30.21 111.70,30.23 112.00,30.35 112.30,30.46 112.60,30.76 112.90,31.14 113.20,31.37 113.50,31.60 113.80,31.69 114.10,31.89 114.40,32.20 114.70,32.35 115.00,32.51 115.30,32.65 115.60,32.82 115.90,33.04 116.20,33.39 116.50,33.79 116.80,34.07 117.10,34.12 117.40,34.04 117.70,34.39 118.00,34.85 118.30,35.10 118.60,35.45 118.90,35.65 119.20,35.77 119.50,36.22 119.80,36.68 120.10,36.71 120.40,36.71 120.70,36.88 121.00,37.04 121.30,37.18 121.60,37.68 121.90,38.30 122.20,38.49 122.50,38.60 122.80,38.94 123.10,39.23 123.40,39.45 123.70,39.75 124.00,39.88 124.30,40.03 124.60,40.13 124.90,40.00 125.20,40.27 125.50,40.70 125.80,40.89 126.10,41.13 126.40,41.36 126.70,41.84 127.00,42.46 127.30,42.60 127.60,42.69 127.90,42.99 128.20,43.20 128.50,43.48 128.80,43.85 129.10,44.03 129.40,44.08 129.70,44.40 130.00,44.64 130.30,44.83 130.60,45.20 130.90,45.54 131.20,45.97 131.50,46.28 131.80,46.45 132.10,46.70 132.40,46.84 132.70,46.89 133.00,47.21 133.30,47.61 133.60,47.96 133.90,48.33 134.20,48.59 134.50,48.93 134.80,49.60 135.10,50.00 135.40,49.93 135.70,50.09 136.00,50.55 136.30,51.11 136.60,51.36 136.90,51.25 137.20,51.37 137.50,51.66 137.80,51.89 138.10,52.29 138.40,52.78 138.70,53.25 139.00,53.86 139.30,54.14 139.60,54.08 139.90,54.28 140.20,54.85 140.50,55.37 140.80,55.42 141.10,55.56 141.40,56.12 141.70,56.56 142.00,56.94 142.30,57.45 142.60,57.75 142.90,57.86 143.20,58.04 143.50,58.37 143.80,58.54 144.10,58.69 144.40,59.08 144.70,59.40 145.00,59.70 145.30,60.21 145.60,60.86 145.90,61.21 146.20,61.46 146.50,61.61 146.80,61.41 147.10,61.50 147.40,62.17 147.70,62.79 148.00,63.11 148.30,63.47 148.60,63.62 148.90,63.64 149.20,64.18 149.50,64.71 149.80,64.54 150.10,64.48 150.40,64.95 150.70,65.44 151.00,65.74 151.30,65.95 151.60,66.08 151.90,66.30 152.20,67.02 152.50,67.70 152.80,67.73 153.10,67.62 153.40,67.67 153.70,67.80 154.00,68.36 154.30,68.80 154.60,68.99 154.90,69.42 155.20,69.87 155.50,70.21 155.80,70.42 156.10,70.43 156.40,70.37 156.70,70.65 157.00,71.22 157.30,71.69 157.60,72.14 157.90,72.45 158.20,72.47 158.50,72.68 158.80,73.07 159.10,73.37 159.40,73.63 159.70,73.96 160.00,74.35 160.30,74.62 160.60,74.89 160.90,75.23 161.20,75.40 161.50,75.43 161.80,75.70 162.10,76.04 162.40,76.45 162.70,76.74 163.00,76.62 163.30,76.65 163.60,77.09 163.90,77.44 164.20,77.60 164.50,77.92 164.80,78.13 165.10,78.37 165.40,78.90 165.70,79.31 166.00,79.47 166.30,79.72 166.60,80.09 166.90,80.12 167.20,80.11 167.50,80.67 167.80,81.41 168.10,82.07 168.40,82.52 168.70,82.57 169.00,82.49 169.30,82.61 169.60,83.10 169.90,83.71 170.20,83.97 170.50,83.99 170.80,84.37 171.10,85.03 171.40,85.46 171.70,85.45 172.00,85.41 172.30,85.64 172.60,85.98 172.90,86.43 173.20,87.07 173.50,87.57 173.80,87.89 174.10,88.10 174.40,88.21 174.70,88.45 175.00,88.75 175.30,89.21 175.60,89.71 175.90,89.69 176.20,89.66 176.50,90.09 176.80,90.41 177.10,90.59 177.40,91.18 177.70,92.06 178.00,92.51 178.30,92.60 178.60,93.05 178.90,93.32 179.20,93.28 179.50,93.60 179.80,94.08 180.10,94.26 180.40,94.36 180.70,94.93 181.00,95.74 181.30,96.35 181.60,96.59 181.90,96.74 182.20,97.20 182.50,97.28 182.80,97.26 183.10,97.73 183.40,98.16 183.70,98.50 184.00,98.95 184.30,99.42 184.60,99.63 184.90,99.88 185.20,100.37 185.50,100.62 185.80,100.93 186.10,101.39 186.40,101.51 186.70,101.62 187.00,101.85 187.30,102.10 187.60,102.83 187.90,103.53 188.20,103.61 188.50,103.72 188.80,103.96 189.10,104.54 189.40,105.37 189.70,105.64 190.00,105.63 190.30,105.83 190.60,106.05 190.90,106.28 191.20,106.60 191.50,107.06 191.80,107.73 192.10,108.26 192.40,108.51 192.70,108.53 193.00,108.64 193.30,109.03 193.60,109.52 193.90,110.14 194.20,110.62 194.50,110.81 194.80,110.71 195.10,110.87 195.40,111.71 195.70,112.10 196.00,111.97 196.30,112.48 196.60,112.97 196.90,113.20 197.20,113.66 197.50,113.71 197.80,113.88 198.10,114.57 198.40,114.79 198.70,114.92 199.00,115.13 199.30,115.39 199.60,115.96 199.90,116.21 200.20,116.38 200.50,116.76 200.80,117.25 201.10,117.56 201.40,117.70 201.70,118.06 202.00,118.25 202.30,118.38 202.60,118.66 202.90,118.86 203.20,119.35 203.50,120.01 203.80,120.44 204.10,120.87 204.40,120.98 204.70,120.70 205.00,120.76 205.30,121.42 205.60,122.14 205.90,122.41 206.20,122.73 206.50,123.08 206.80,122.97 207.10,123.25 207.40,124.33 207.70,125.19 208.00,125.12 208.30,125.04 208.60,125.64 208.90,126.28 209.20,126.51 209.50,126.45 209.80,126.62 210.10,127.22 210.40,127.96 210.70,128.77 211.00,129.02 211.30,128.64 211.60,128.70 211.90,129.19 212.20,129.66 212.50,130.20 212.80,130.63 213.10,131.08 213.40,131.50 213.70,131.42 214.00,131.19 214.30,131.33 214.60,131.76 214.90,132.06 215.20,132.54 215.50,133.48 215.80,133.99 216.10,134.00 216.40,134.00 216.70,134.16 217.00,135.05 217.30,135.74 217.60,135.62 217.90,136.18 218.20,137.01 218.50,137.20 218.80,137.49 219.10,137.83 219.40,138.03 219.70,138.78 220.00,139.30 220.30,139.03 220.60,139.22 220.90,140.08 221.20,140.96 221.50,141.48 221.80,141.46 222.10,141.19 222.40,141.40 222.70,142.18 223.00,142.58 223.30,142.66 223.60,143.21 223.90,144.00 224.20,144.30 224.50,144.35 224.80,144.60 225.10,144.76 225.40,145.13 225.70,146.03 226.00,147.33 226.30,148.06 226.60,147.69 226.90,147.68 227.20,147.83 227.50,147.80 227.80,148.12 228.10,148.64 228.40,149.62 228.70,150.24 229.00,149.96 229.30,150.09 229.60,150.83 229.90,151.07 230.20,151.18 230.50,151.23 230.80,151.18 231.10,151.99 231.40,152.80 231.70,152.95 232.00,152.87 232.30,153.04 232.60,153.67 232.90,154.09 233.20,154.14 233.50,154.48 233.80,155.31 234.10,155.88 234.40,156.04 234.70,156.47 235.00,157.10 235.30,157.33 235.60,157.07 235.90,156.90 236.20,157.13 236.50,157.67 236.80,158.35 237.10,158.64 237.40,158.60 237.70,158.62 238.00,159.03 238.30,159.68 238.60,159.92 238.90,159.96 239.20,160.06 239.50,160.23 239.80,160.93 240.10,161.85 240.40,161.97 240.70,161.61 241.00,161.54 241.30,162.04 241.60,163.12 241.90,163.46 242.20,162.79 242.50,162.79 242.80,163.40 243.10,163.43 243.40,163.53 243.70,164.46 244.00,164.91 244.30,164.73 244.60,165.43 244.90,166.42 245.20,166.57 245.50,166.83 245.80,167.60 246.10,167.41 246.40,167.10 246.70,167.39 247.00,167.57 247.30,167.79 247.60,168.00 247.90,168.39 248.20,168.88 248.50,169.52 248.80,169.93 249.10,169.88 249.40,170.14 249.70,170.12 250.00,169.81 250.30,170.42 250.60,171.21 250.90,171.59 251.20,172.64 251.50,173.45 251.80,172.89 252.10,172.49 252.40,172.92 252.70,172.86 253.00,172.64 253.30,173.22 253.60,172.88 253.90,172.13 254.20,172.77 254.50,173.78 254.80,174.35 255.10,174.77 255.40,175.16 255.70,175.21 256.00,174.77 256.30,174.66 256.60,175.75 256.90,176.51 257.20,175.88 257.50,175.25 257.80,176.09 258.10,177.32 258.40,177.19 258.70,176.83 259.00,177.33 259.30,177.93 259.60,177.86 259.90,177.51 260.20,177.71 260.50,178.69 260.80,179.49 261.10,179.68 261.40,179.95 261.70,180.07 262.00,180.12 262.30,180.31 262.60,180.70 262.90,181.21 263.20,181.15 263.50,180.90 263.80,181.14 264.10,181.54 264.40,181.89 264.70,182.13 265.00,181.92 265.30,181.71 265.60,182.56 265.90,183.00 266.20,182.85 266.50,183.50 266.80,183.65 267.10,182.91 267.40,182.90 267.70,183.59 268.00,183.59 268.30,183.76 268.60,184.17 268.90,183.87 269.20,183.65 269.50,184.00 269.80,184.80 270.10,185.51 270.40,185.77 270.70,185.72 271.00,185.64 271.30,185.67 271.60,186.20 271.90,187.02 272.20,186.45 272.50,185.36 272.80,186.07 273.10,187.01 273.40,186.61 273.70,186.70 274.00,187.13 274.30,187.28 274.60,188.27 274.90,188.63 275.20,188.19 275.50,188.19 275.80,187.81 276.10,187.71 276.40,188.43 276.70,188.67 277.00,188.76 277.30,188.83 277.60,188.34 277.90,188.16 278.20,188.79 278.50,189.78 278.80,190.35 279.10,189.95 279.40,189.43 279.70,189.86 280.00,189.99 280.30,189.38 280.60,189.75 280.90,190.80 281.20,191.21 281.50,191.20 281.80,191.30 282.10,191.34 282.40,191.26 282.70,191.02 283.00,190.86 283.30,191.06 283.60,191.93 283.90,192.85 284.20,192.56 284.50,191.97 284.80,191.94 285.10,192.02 285.40,192.29 285.70,192.63 286.00,192.87 286.30,192.89 286.60,192.72 286.90,193.12 287.20,193.25 287.50,192.81 287.80,193.09 288.10,193.43 288.40,193.23 288.70,192.78 289.00,192.92 289.30,193.68 289.60,193.43 289.90,193.34 290.20,193.71 290.50,193.75 290.80,194.52 291.10,195.11 291.40,194.99 291.70,194.49 292.00,193.71 292.30,194.06 292.60,195.22 292.90,195.19 293.20,195.32 293.50,195.93 293.80,195.55 294.10,195.30 294.40,195.54 294.70,195.47 295.00,195.26 295.30,195.86 295.60,196.90 295.90,196.25 296.20,194.56 296.50,194.81 296.80,196.24 297.10,196.63 297.40,196.84 297.70,196.87 298.00,196.64 298.30,197.27 298.60,197.68 298.90,197.63 299.20,197.83 299.50,197.86 299.80,197.45 300.10,197.43 300.40,197.96 300.70,197.69 301.00,197.54 301.30,198.55 301.60,199.29 301.90,199.09 302.20,198.57 302.50,198.23 302.80,197.83 303.10,197.66 303.40,198.14 303.70,198.31 304.00,198.61 304.30,198.85 304.60,197.96 304.90,197.57 305.20,198.42 305.50,199.14 305.80,198.88 306.10,198.34 306.40,198.11 306.70,197.94 307.00,198.34 307.30,199.37 307.60,199.92 307.90,199.63 308.20,199.74 308.50,200.11 308.80,198.87 309.10,197.89 309.40,198.70 309.70,199.61 310.00,199.63 310.30,199.33 310.60,200.06 310.90,200.45 311.20,199.47 311.50,198.63 311.80,198.72 312.10,199.72 312.40,200.59 312.70,200.78 313.00,201.00 313.30,201.04 313.60,200.78 313.90,200.42 314.20,199.71 314.50,199.61 314.80,199.97 315.10,200.11 315.40,200.84 315.70,201.44 316.00,200.87 316.30,200.04 316.60,200.35 316.90,200.95 317.20,200.64 317.50,200.49 317.80,200.68 318.10,201.09 318.40,201.35 318.70,200.55 319.00,200.46 319.30,201.50 319.60,201.79 319.90,201.58 320.20,201.57 320.50,201.99 320.80,202.55 321.10,202.34 321.40,201.50 321.70,201.26 322.00,201.64 322.30,201.89 322.60,201.73 322.90,201.37" fill="none" stroke="#f0501e" stroke-width="1.1" stroke-linejoin="round"/><path d="M49.92,18.61L50.03,24.09L50.13,29.57L50.23,35.05L50.33,40.54L50.45,46.02L50.57,51.50L50.69,56.98L50.83,62.46L50.97,67.94L51.13,73.42L51.30,78.90L51.46,84.39L51.61,89.87L51.76,95.35L51.90,100.83L52.03,106.31L52.15,111.79L52.28,117.26L52.40,122.74L52.53,128.22L52.66,133.70L52.79,139.18L52.92,144.66L53.05,150.14L53.18,155.61L53.33,161.09L53.52,166.57L53.57,167.66L53.62,168.76L53.67,169.86L53.73,170.95L53.79,172.05L53.86,173.14L53.93,174.24L54.02,175.33L54.11,176.43L54.22,177.52L54.35,178.62L54.50,179.71L54.69,180.81L54.97,181.90L55.47,183.00L55.47,183.00L55.97,181.91L56.25,180.81L56.44,179.72L56.59,178.62L56.72,177.53L56.83,176.43L56.92,175.34L57.01,174.24L57.08,173.15L57.15,172.05L57.21,170.96L57.27,169.86L57.32,168.77L57.37,167.67L57.41,166.58L57.61,161.11L57.76,155.63L57.89,150.16L58.02,144.69L58.15,139.22L58.28,133.74L58.41,128.27L58.54,122.80L58.66,117.33L58.79,111.86L58.91,106.39L59.04,100.92L59.18,95.45L59.33,89.98L59.48,84.51L59.64,79.04L59.81,73.57L59.97,68.10L60.11,62.63L60.25,57.16L60.37,51.69L60.49,46.23L60.61,40.76L60.71,35.29L60.81,29.82L60.91,24.35L61.02,18.89L59.63,18.85L58.24,18.81L56.86,18.77L55.47,18.74L54.08,18.70L52.70,18.67L51.31,18.64ZM61.86,18.91L61.97,24.38L62.07,29.86L62.16,35.33L62.27,40.80L62.39,46.27L62.51,51.74L62.63,57.21L62.77,62.69L62.91,68.16L63.07,73.63L63.24,79.10L63.40,84.57L63.55,90.04L63.70,95.51L63.84,100.98L63.97,106.45L64.09,111.92L64.22,117.39L64.34,122.86L64.47,128.33L64.60,133.80L64.73,139.26L64.86,144.73L64.99,150.20L65.12,155.67L65.27,161.13L65.47,166.60L65.51,167.69L65.56,168.79L65.61,169.88L65.67,170.97L65.73,172.07L65.80,173.16L65.87,174.25L65.96,175.35L66.05,176.44L66.16,177.53L66.29,178.63L66.44,179.72L66.63,180.81L66.91,181.91L67.41,183.00L67.41,183.00L67.91,181.91L68.19,180.81L68.38,179.72L68.53,178.63L68.66,177.54L68.77,176.44L68.86,175.35L68.95,174.26L69.02,173.17L69.09,172.08L69.15,170.98L69.21,169.89L69.26,168.80L69.31,167.71L69.35,166.61L69.55,161.15L69.70,155.69L69.83,150.23L69.96,144.77L70.09,139.31L70.22,133.85L70.35,128.39L70.48,122.93L70.60,117.47L70.73,112.01L70.85,106.55L70.98,101.10L71.12,95.64L71.27,90.18L71.42,84.73L71.58,79.27L71.75,73.82L71.91,68.36L72.05,62.91L72.19,57.45L72.31,52.00L72.43,46.54L72.55,41.09L72.66,35.64L72.75,30.18L72.85,24.73L72.95,19.28L71.57,19.22L70.18,19.16L68.80,19.12L67.41,19.07L66.02,19.03L64.64,18.99L63.25,18.95ZM73.80,19.31L73.91,24.78L74.01,30.24L74.10,35.70L74.21,41.16L74.33,46.62L74.45,52.08L74.57,57.54L74.71,63.00L74.85,68.46L75.01,73.92L75.18,79.37L75.34,84.83L75.49,90.29L75.64,95.75L75.78,101.21L75.91,106.66L76.03,112.12L76.16,117.57L76.28,123.03L76.41,128.48L76.54,133.94L76.67,139.39L76.80,144.84L76.93,150.30L77.06,155.75L77.21,161.20L77.41,166.65L77.45,167.74L77.50,168.83L77.55,169.92L77.61,171.01L77.67,172.10L77.74,173.19L77.81,174.28L77.90,175.37L77.99,176.46L78.10,177.55L78.23,178.64L78.38,179.73L78.57,180.82L78.85,181.91L79.35,183.00L79.35,183.00L79.85,181.91L80.13,180.82L80.32,179.73L80.47,178.65L80.60,177.56L80.71,176.47L80.80,175.38L80.89,174.29L80.96,173.21L81.03,172.12L81.09,171.03L81.15,169.94L81.20,168.85L81.25,167.77L81.29,166.68L81.49,161.24L81.64,155.80L81.77,150.36L81.90,144.93L82.03,139.49L82.16,134.06L82.29,128.62L82.42,123.19L82.54,117.76L82.67,112.33L82.79,106.90L82.92,101.47L83.06,96.04L83.21,90.61L83.36,85.18L83.52,79.76L83.69,74.34L83.85,68.92L83.99,63.50L84.13,58.07L84.25,52.65L84.37,47.23L84.49,41.81L84.59,36.39L84.69,30.97L84.79,25.56L84.89,20.14L83.51,19.99L82.12,19.86L80.74,19.74L79.35,19.63L77.96,19.54L76.58,19.46L75.19,19.38ZM85.74,20.25L85.85,25.69L85.95,31.12L86.04,36.56L86.15,42.00L86.27,47.44L86.39,52.88L86.51,58.31L86.65,63.75L86.79,69.19L86.95,74.63L87.12,80.07L87.28,85.50L87.43,90.94L87.58,96.37L87.72,101.80L87.85,107.22L87.97,112.65L88.10,118.07L88.22,123.49L88.35,128.91L88.48,134.33L88.61,139.74L88.74,145.16L88.87,150.57L89.00,155.98L89.15,161.39L89.34,166.80L89.39,167.88L89.44,168.96L89.49,170.04L89.55,171.12L89.61,172.20L89.68,173.28L89.75,174.36L89.84,175.44L89.93,176.52L90.04,177.60L90.17,178.68L90.32,179.76L90.51,180.84L90.79,181.92L91.29,183.00L91.29,183.00L91.79,181.92L92.07,180.85L92.26,179.78L92.41,178.70L92.54,177.63L92.65,176.56L92.74,175.48L92.83,174.41L92.90,173.34L92.97,172.27L93.03,171.19L93.09,170.12L93.14,169.05L93.19,167.98L93.23,166.91L93.43,161.55L93.58,156.20L93.71,150.85L93.84,145.50L93.97,140.15L94.10,134.81L94.23,129.46L94.36,124.13L94.48,118.79L94.61,113.46L94.73,108.13L94.86,102.80L95.00,97.48L95.15,92.16L95.30,86.85L95.46,81.54L95.63,76.23L95.79,70.93L95.93,65.63L96.07,60.33L96.19,55.03L96.31,49.73L96.43,44.43L96.53,39.13L96.63,33.83L96.73,28.54L96.83,23.25L95.45,22.79L94.06,22.34L92.68,21.90L91.29,21.49L89.90,21.11L88.52,20.77L87.13,20.48ZM97.68,23.53L97.79,28.90L97.89,34.26L97.98,39.63L98.09,44.99L98.21,50.35L98.33,55.72L98.45,61.08L98.59,66.44L98.73,71.80L98.89,77.16L99.06,82.52L99.22,87.87L99.37,93.22L99.52,98.57L99.66,103.91L99.79,109.24L99.91,114.57L100.04,119.90L100.16,125.22L100.29,130.55L100.42,135.86L100.55,141.18L100.68,146.49L100.81,151.80L100.94,157.11L101.09,162.41L101.28,167.71L101.33,168.77L101.38,169.83L101.43,170.89L101.49,171.95L101.55,173.01L101.62,174.07L101.69,175.13L101.78,176.19L101.87,177.24L101.98,178.30L102.11,179.36L102.26,180.42L102.45,181.47L102.73,182.53L103.23,183.58L103.23,183.58L103.73,182.53L104.01,181.48L104.20,180.43L104.35,179.39L104.48,178.34L104.59,177.29L104.68,176.25L104.77,175.20L104.84,174.15L104.91,173.11L104.97,172.06L105.03,171.02L105.08,169.97L105.13,168.93L105.17,167.88L105.37,162.66L105.52,157.44L105.65,152.22L105.78,147.01L105.91,141.80L106.04,136.60L106.17,131.40L106.30,126.21L106.42,121.02L106.55,115.83L106.67,110.65L106.80,105.47L106.94,100.30L107.09,95.14L107.24,89.98L107.40,84.83L107.57,79.69L107.73,74.55L107.87,69.42L108.01,64.28L108.13,59.15L108.25,54.01L108.37,48.88L108.47,43.75L108.57,38.62L108.67,33.50L108.77,28.38L107.39,27.65L106.00,26.96L104.62,26.30L103.23,25.68L101.84,25.09L100.46,24.54L99.07,24.01ZM109.62,28.85L109.73,34.09L109.83,39.33L109.92,44.57L110.03,49.80L110.15,55.04L110.27,60.27L110.39,65.51L110.53,70.74L110.67,75.97L110.83,81.21L111.00,86.43L111.16,91.66L111.31,96.87L111.46,102.07L111.60,107.27L111.73,112.45L111.85,117.63L111.98,122.81L112.10,127.98L112.23,133.14L112.36,138.30L112.49,143.46L112.62,148.61L112.75,153.75L112.88,158.88L113.03,164.02L113.22,169.14L113.27,170.17L113.32,171.19L113.37,172.22L113.43,173.24L113.49,174.27L113.56,175.29L113.63,176.31L113.72,177.34L113.81,178.36L113.92,179.38L114.05,180.40L114.20,181.42L114.39,182.44L114.67,183.46L115.17,184.48L115.17,184.48L115.67,183.47L115.95,182.46L116.14,181.45L116.29,180.45L116.42,179.44L116.53,178.44L116.62,177.44L116.71,176.44L116.78,175.44L116.85,174.44L116.91,173.43L116.97,172.43L117.02,171.44L117.07,170.44L117.11,169.44L117.31,164.44L117.46,159.46L117.59,154.47L117.72,149.50L117.85,144.53L117.98,139.56L118.11,134.61L118.24,129.66L118.36,124.71L118.49,119.78L118.61,114.84L118.74,109.92L118.88,105.01L119.03,100.11L119.18,95.22L119.34,90.34L119.51,85.47L119.67,80.61L119.81,75.75L119.95,70.89L120.07,66.03L120.19,61.18L120.31,56.32L120.41,51.47L120.51,46.62L120.61,41.77L120.71,36.93L119.33,35.83L117.94,34.74L116.56,33.65L115.17,32.59L113.78,31.57L112.40,30.59L111.01,29.68ZM121.56,37.59L121.67,42.60L121.77,47.59L121.86,52.58L121.97,57.58L122.09,62.57L122.21,67.55L122.33,72.54L122.47,77.52L122.61,82.51L122.77,87.49L122.94,92.47L123.10,97.43L123.25,102.39L123.40,107.33L123.54,112.27L123.67,117.19L123.79,122.10L123.92,127.01L124.04,131.91L124.17,136.80L124.30,141.69L124.43,146.57L124.56,151.45L124.69,156.31L124.82,161.17L124.97,166.03L125.17,170.88L125.21,171.85L125.26,172.82L125.31,173.79L125.37,174.76L125.43,175.72L125.50,176.69L125.57,177.66L125.66,178.63L125.75,179.59L125.86,180.56L125.99,181.52L126.14,182.49L126.33,183.45L126.61,184.41L127.11,185.37L127.11,185.37L127.61,184.41L127.89,183.47L128.08,182.52L128.23,181.57L128.36,180.63L128.47,179.68L128.56,178.74L128.65,177.80L128.72,176.86L128.79,175.91L128.85,174.97L128.91,174.03L128.96,173.09L129.01,172.15L129.06,171.21L129.25,166.52L129.40,161.82L129.53,157.14L129.66,152.46L129.79,147.79L129.92,143.13L130.05,138.47L130.18,133.83L130.30,129.19L130.43,124.56L130.55,119.93L130.68,115.31L130.82,110.71L130.97,106.12L131.12,101.54L131.28,96.98L131.45,92.43L131.61,87.88L131.75,83.34L131.89,78.80L132.01,74.26L132.13,69.72L132.25,65.18L132.35,60.65L132.45,56.12L132.55,51.59L132.66,47.08L131.27,45.79L129.88,44.54L128.50,43.32L127.11,42.13L125.72,40.96L124.34,39.82L122.95,38.69ZM133.51,47.88L133.61,52.60L133.71,57.31L133.81,62.01L133.91,66.71L134.03,71.42L134.15,76.12L134.27,80.81L134.41,85.51L134.55,90.21L134.71,94.90L134.88,99.59L135.04,104.26L135.19,108.92L135.34,113.57L135.48,118.20L135.61,122.82L135.73,127.43L135.86,132.03L135.98,136.62L136.11,141.21L136.24,145.78L136.37,150.35L136.50,154.90L136.63,159.45L136.76,163.99L136.91,168.53L137.11,173.05L137.15,173.96L137.20,174.86L137.25,175.76L137.31,176.67L137.37,177.57L137.44,178.47L137.51,179.37L137.60,180.28L137.69,181.18L137.80,182.08L137.93,182.97L138.08,183.87L138.27,184.77L138.55,185.66L139.05,186.55L139.05,186.55L139.55,185.67L139.83,184.79L140.02,183.91L140.17,183.04L140.30,182.17L140.41,181.29L140.50,180.42L140.59,179.55L140.66,178.68L140.73,177.81L140.79,176.94L140.85,176.08L140.90,175.21L140.95,174.34L141.00,173.47L141.19,169.14L141.34,164.82L141.47,160.50L141.60,156.19L141.73,151.89L141.86,147.60L141.99,143.32L142.12,139.05L142.24,134.79L142.37,130.53L142.49,126.28L142.62,122.05L142.76,117.82L142.91,113.62L143.06,109.43L143.22,105.25L143.39,101.08L143.55,96.93L143.69,92.77L143.83,88.61L143.95,84.46L144.07,80.31L144.19,76.16L144.30,72.01L144.39,67.87L144.49,63.72L144.59,59.59L143.21,58.16L141.82,56.69L140.44,55.18L139.05,53.67L137.66,52.17L136.28,50.69L134.89,49.25ZM145.45,60.44L145.55,64.80L145.65,69.14L145.75,73.47L145.85,77.81L145.97,82.14L146.09,86.47L146.21,90.80L146.35,95.12L146.49,99.45L146.65,103.77L146.82,108.08L146.98,112.39L147.13,116.67L147.28,120.95L147.42,125.21L147.55,129.46L147.67,133.69L147.80,137.92L147.92,142.14L148.05,146.36L148.18,150.56L148.31,154.76L148.44,158.95L148.57,163.13L148.70,167.30L148.85,171.47L149.05,175.63L149.09,176.46L149.14,177.29L149.19,178.13L149.25,178.96L149.31,179.79L149.38,180.62L149.45,181.44L149.54,182.27L149.63,183.10L149.74,183.93L149.87,184.75L150.02,185.58L150.21,186.40L150.49,187.22L150.99,188.04L150.99,188.04L151.49,187.23L151.77,186.42L151.96,185.62L152.11,184.81L152.24,184.01L152.35,183.20L152.44,182.40L152.53,181.60L152.60,180.80L152.67,180.00L152.73,179.20L152.79,178.40L152.84,177.60L152.89,176.80L152.94,176.00L153.13,172.01L153.28,168.02L153.41,164.04L153.54,160.07L153.67,156.11L153.80,152.15L153.93,148.21L154.06,144.27L154.18,140.33L154.31,136.41L154.43,132.49L154.56,128.58L154.70,124.69L154.85,120.81L155.00,116.94L155.16,113.08L155.33,109.24L155.49,105.40L155.63,101.57L155.77,97.73L155.89,93.90L156.01,90.07L156.13,86.24L156.24,82.42L156.33,78.59L156.43,74.77L156.53,70.96L155.15,69.67L153.76,68.38L152.38,67.08L150.99,65.78L149.60,64.47L148.22,63.15L146.83,61.81ZM157.39,71.76L157.49,75.77L157.59,79.77L157.69,83.76L157.79,87.75L157.91,91.74L158.03,95.73L158.15,99.72L158.29,103.70L158.43,107.68L158.59,111.67L158.76,115.64L158.92,119.60L159.07,123.55L159.22,127.49L159.36,131.41L159.49,135.32L159.61,139.22L159.74,143.11L159.86,147.00L159.99,150.88L160.12,154.75L160.25,158.61L160.38,162.47L160.51,166.32L160.64,170.16L160.79,173.99L160.99,177.82L161.03,178.59L161.08,179.35L161.13,180.12L161.19,180.88L161.25,181.65L161.32,182.41L161.39,183.17L161.48,183.93L161.57,184.70L161.68,185.46L161.81,186.22L161.96,186.98L162.15,187.73L162.43,188.49L162.93,189.24L162.93,189.24L163.43,188.50L163.71,187.75L163.90,187.01L164.05,186.27L164.18,185.53L164.29,184.79L164.38,184.06L164.47,183.32L164.54,182.58L164.61,181.85L164.67,181.11L164.73,180.38L164.78,179.64L164.83,178.91L164.88,178.18L165.07,174.51L165.22,170.85L165.35,167.20L165.48,163.55L165.61,159.91L165.74,156.28L165.87,152.66L166.00,149.04L166.12,145.44L166.25,141.84L166.37,138.25L166.50,134.66L166.64,131.10L166.79,127.54L166.94,124.00L167.10,120.47L167.27,116.96L167.43,113.45L167.57,109.94L167.71,106.44L167.83,102.93L167.95,99.43L168.07,95.94L168.18,92.44L168.27,88.95L168.37,85.46L168.47,81.98L167.09,80.64L165.70,79.34L164.32,78.06L162.93,76.80L161.54,75.55L160.16,74.30L158.77,73.04ZM169.33,82.82L169.43,86.51L169.53,90.19L169.62,93.86L169.73,97.53L169.85,101.20L169.97,104.86L170.09,108.53L170.23,112.19L170.37,115.85L170.53,119.51L170.70,123.16L170.86,126.80L171.01,130.42L171.16,134.04L171.30,137.63L171.43,141.22L171.55,144.79L171.68,148.35L171.80,151.90L171.93,155.45L172.06,158.99L172.19,162.52L172.32,166.04L172.45,169.55L172.58,173.05L172.73,176.55L172.93,180.04L172.97,180.74L173.02,181.43L173.07,182.13L173.13,182.82L173.19,183.52L173.26,184.21L173.33,184.91L173.42,185.60L173.51,186.30L173.62,186.99L173.75,187.68L173.90,188.37L174.09,189.06L174.37,189.74L174.87,190.43L174.87,190.43L175.37,189.75L175.65,189.08L175.84,188.41L175.99,187.74L176.12,187.08L176.23,186.41L176.32,185.75L176.41,185.09L176.48,184.42L176.55,183.76L176.61,183.10L176.67,182.44L176.72,181.78L176.77,181.12L176.81,180.46L177.01,177.17L177.16,173.88L177.29,170.60L177.42,167.33L177.55,164.07L177.68,160.82L177.81,157.57L177.94,154.34L178.06,151.12L178.19,147.90L178.31,144.69L178.44,141.50L178.58,138.32L178.73,135.15L178.88,132.01L179.04,128.87L179.21,125.75L179.37,122.64L179.51,119.53L179.65,116.43L179.77,113.32L179.89,110.22L180.01,107.12L180.12,104.02L180.21,100.92L180.31,97.83L180.41,94.75L179.03,93.22L177.64,91.69L176.26,90.16L174.87,88.65L173.48,87.15L172.10,85.68L170.71,84.23ZM181.27,95.69L181.37,99.02L181.47,102.34L181.56,105.64L181.67,108.95L181.79,112.26L181.91,115.57L182.03,118.87L182.17,122.17L182.31,125.47L182.47,128.76L182.64,132.05L182.80,135.33L182.95,138.58L183.10,141.83L183.24,145.06L183.37,148.27L183.49,151.47L183.62,154.66L183.74,157.84L183.87,161.01L184.00,164.18L184.13,167.33L184.26,170.47L184.39,173.61L184.52,176.73L184.67,179.85L184.87,182.96L184.91,183.58L184.96,184.20L185.01,184.82L185.07,185.44L185.13,186.06L185.20,186.68L185.27,187.30L185.36,187.92L185.45,188.53L185.56,189.15L185.69,189.76L185.84,190.38L186.03,190.99L186.31,191.60L186.81,192.20L186.81,192.20L187.31,191.61L187.59,191.01L187.78,190.42L187.93,189.83L188.06,189.25L188.17,188.66L188.26,188.07L188.35,187.49L188.42,186.90L188.49,186.32L188.55,185.74L188.61,185.15L188.66,184.57L188.71,183.99L188.75,183.41L188.95,180.51L189.10,177.61L189.23,174.72L189.36,171.84L189.49,168.97L189.62,166.11L189.75,163.26L189.88,160.42L190.00,157.59L190.13,154.77L190.25,151.95L190.38,149.15L190.52,146.36L190.67,143.59L190.82,140.84L190.98,138.10L191.15,135.37L191.31,132.65L191.45,129.94L191.59,127.22L191.71,124.51L191.83,121.80L191.95,119.09L192.06,116.39L192.15,113.68L192.25,110.98L192.35,108.30L190.97,106.76L189.58,105.19L188.20,103.60L186.81,102.01L185.42,100.41L184.04,98.82L182.65,97.24ZM193.21,109.22L193.31,112.15L193.41,115.06L193.50,117.96L193.61,120.87L193.73,123.77L193.85,126.67L193.97,129.57L194.11,132.46L194.25,135.35L194.41,138.24L194.58,141.13L194.74,144.00L194.89,146.85L195.04,149.69L195.18,152.51L195.31,155.32L195.43,158.12L195.56,160.91L195.68,163.69L195.81,166.46L195.94,169.23L196.07,171.98L196.20,174.73L196.33,177.47L196.46,180.20L196.61,182.92L196.81,185.64L196.85,186.18L196.90,186.72L196.95,187.26L197.01,187.80L197.07,188.34L197.14,188.88L197.21,189.42L197.30,189.96L197.39,190.50L197.50,191.04L197.63,191.58L197.78,192.11L197.97,192.65L198.25,193.18L198.75,193.71L198.75,193.71L199.25,193.19L199.53,192.67L199.72,192.15L199.87,191.64L200.00,191.13L200.11,190.61L200.20,190.10L200.29,189.59L200.36,189.08L200.43,188.57L200.49,188.06L200.55,187.56L200.60,187.05L200.65,186.54L200.69,186.03L200.89,183.50L201.04,180.98L201.17,178.46L201.30,175.95L201.43,173.44L201.56,170.95L201.69,168.47L201.82,165.99L201.94,163.53L202.07,161.07L202.19,158.62L202.32,156.18L202.46,153.75L202.61,151.34L202.76,148.95L202.92,146.57L203.09,144.20L203.25,141.84L203.39,139.49L203.53,137.13L203.65,134.78L203.77,132.43L203.89,130.09L204.00,127.74L204.09,125.40L204.19,123.06L204.29,120.74L202.91,119.26L201.52,117.82L200.14,116.40L198.75,114.98L197.36,113.57L195.98,112.15L194.59,110.70ZM205.15,121.66L205.25,124.22L205.35,126.77L205.44,129.31L205.55,131.85L205.67,134.39L205.79,136.93L205.91,139.46L206.05,142.00L206.19,144.53L206.35,147.06L206.52,149.58L206.68,152.09L206.83,154.58L206.98,157.06L207.12,159.52L207.25,161.96L207.37,164.40L207.50,166.82L207.62,169.24L207.75,171.65L207.88,174.05L208.01,176.43L208.14,178.81L208.27,181.18L208.40,183.54L208.55,185.89L208.75,188.24L208.79,188.71L208.84,189.18L208.89,189.64L208.95,190.11L209.01,190.58L209.08,191.04L209.15,191.51L209.24,191.97L209.33,192.44L209.44,192.90L209.57,193.36L209.72,193.82L209.91,194.28L210.19,194.74L210.69,195.19L210.69,195.19L211.19,194.75L211.47,194.31L211.66,193.87L211.81,193.43L211.94,193.00L212.05,192.56L212.14,192.13L212.23,191.70L212.30,191.27L212.37,190.84L212.43,190.41L212.49,189.98L212.54,189.55L212.59,189.12L212.63,188.69L212.83,186.55L212.98,184.42L213.11,182.30L213.24,180.19L213.37,178.08L213.50,175.99L213.63,173.91L213.76,171.83L213.88,169.77L214.01,167.72L214.13,165.67L214.26,163.64L214.40,161.62L214.55,159.62L214.70,157.64L214.86,155.67L215.03,153.72L215.19,151.77L215.33,149.83L215.47,147.89L215.59,145.96L215.71,144.02L215.83,142.09L215.94,140.16L216.03,138.23L216.13,136.31L216.23,134.40L214.85,132.77L213.46,131.15L212.08,129.53L210.69,127.92L209.30,126.32L207.92,124.75L206.53,123.19ZM217.09,135.40L217.19,137.57L217.29,139.73L217.38,141.88L217.49,144.03L217.61,146.18L217.73,148.32L217.85,150.46L217.99,152.60L218.13,154.74L218.29,156.88L218.46,159.01L218.62,161.12L218.77,163.22L218.92,165.30L219.06,167.37L219.19,169.41L219.31,171.44L219.44,173.47L219.56,175.48L219.69,177.49L219.82,179.49L219.95,181.47L220.08,183.44L220.21,185.41L220.34,187.36L220.49,189.31L220.69,191.25L220.73,191.63L220.78,192.02L220.83,192.41L220.89,192.79L220.95,193.18L221.02,193.56L221.09,193.94L221.18,194.33L221.27,194.71L221.38,195.09L221.51,195.47L221.66,195.85L221.85,196.22L222.13,196.60L222.63,196.97L222.63,196.97L223.13,196.61L223.41,196.25L223.60,195.90L223.75,195.54L223.88,195.19L223.99,194.84L224.08,194.49L224.17,194.14L224.24,193.80L224.31,193.45L224.37,193.10L224.43,192.76L224.48,192.41L224.53,192.07L224.57,191.72L224.77,190.01L224.92,188.29L225.05,186.59L225.18,184.90L225.31,183.21L225.44,181.54L225.57,179.88L225.70,178.23L225.82,176.58L225.95,174.95L226.07,173.33L226.20,171.71L226.34,170.12L226.49,168.54L226.64,166.97L226.80,165.42L226.97,163.89L227.13,162.37L227.27,160.84L227.41,159.32L227.53,157.80L227.65,156.28L227.77,154.77L227.88,153.25L227.97,151.74L228.07,150.23L228.17,148.74L226.79,147.15L225.40,145.51L224.02,143.83L222.63,142.14L221.24,140.43L219.86,138.73L218.47,137.05ZM229.03,149.68L229.13,151.43L229.23,153.17L229.32,154.89L229.43,156.62L229.55,158.35L229.67,160.07L229.79,161.79L229.93,163.50L230.07,165.22L230.23,166.93L230.40,168.64L230.56,170.33L230.71,172.00L230.86,173.67L231.00,175.31L231.13,176.94L231.25,178.56L231.38,180.17L231.50,181.77L231.63,183.36L231.76,184.94L231.89,186.52L232.02,188.08L232.15,189.64L232.28,191.18L232.43,192.72L232.62,194.25L232.67,194.56L232.72,194.87L232.77,195.17L232.83,195.47L232.89,195.78L232.96,196.08L233.03,196.39L233.12,196.69L233.21,196.99L233.32,197.29L233.45,197.59L233.60,197.89L233.79,198.19L234.07,198.48L234.57,198.77L234.57,198.77L235.07,198.49L235.35,198.21L235.54,197.93L235.69,197.65L235.82,197.38L235.93,197.10L236.02,196.83L236.11,196.56L236.18,196.28L236.25,196.01L236.31,195.74L236.37,195.47L236.42,195.20L236.47,194.93L236.51,194.66L236.71,193.31L236.86,191.98L236.99,190.64L237.12,189.32L237.25,188.00L237.38,186.70L237.51,185.40L237.64,184.11L237.76,182.83L237.89,181.55L238.01,180.29L238.14,179.03L238.28,177.79L238.43,176.56L238.58,175.35L238.74,174.15L238.91,172.96L239.07,171.78L239.21,170.60L239.35,169.42L239.47,168.24L239.59,167.07L239.71,165.89L239.81,164.72L239.91,163.55L240.01,162.39L240.11,161.23L238.73,159.87L237.34,158.49L235.96,157.08L234.57,155.65L233.18,154.19L231.80,152.71L230.41,151.21ZM240.97,162.06L241.07,163.43L241.17,164.78L241.26,166.14L241.37,167.49L241.49,168.84L241.61,170.19L241.73,171.54L241.87,172.88L242.01,174.23L242.17,175.57L242.34,176.90L242.50,178.22L242.65,179.53L242.80,180.83L242.94,182.11L243.07,183.38L243.19,184.64L243.32,185.89L243.44,187.13L243.57,188.37L243.70,189.60L243.83,190.82L243.96,192.03L244.09,193.23L244.22,194.43L244.37,195.62L244.56,196.80L244.61,197.04L244.66,197.28L244.71,197.51L244.77,197.75L244.83,197.98L244.90,198.22L244.97,198.45L245.06,198.68L245.15,198.92L245.26,199.15L245.39,199.38L245.54,199.61L245.73,199.84L246.01,200.07L246.51,200.29L246.51,200.29L247.01,200.07L247.29,199.86L247.48,199.64L247.63,199.43L247.76,199.22L247.87,199.01L247.96,198.81L248.05,198.60L248.12,198.39L248.19,198.18L248.25,197.98L248.31,197.77L248.36,197.56L248.41,197.36L248.45,197.15L248.65,196.13L248.80,195.11L248.93,194.10L249.06,193.10L249.19,192.10L249.32,191.11L249.45,190.13L249.58,189.15L249.70,188.18L249.83,187.22L249.95,186.27L250.08,185.32L250.22,184.39L250.37,183.47L250.52,182.55L250.68,181.66L250.85,180.77L251.01,179.89L251.15,179.01L251.29,178.13L251.41,177.25L251.53,176.37L251.65,175.50L251.75,174.63L251.85,173.75L251.95,172.89L252.05,172.03L250.67,170.86L249.28,169.66L247.90,168.45L246.51,167.21L245.12,165.96L243.74,164.68L242.35,163.38ZM252.91,172.74L253.01,173.78L253.11,174.81L253.20,175.84L253.31,176.87L253.43,177.89L253.55,178.92L253.67,179.94L253.81,180.96L253.95,181.98L254.11,182.99L254.28,184.00L254.44,185.00L254.59,185.99L254.74,186.97L254.88,187.94L255.01,188.89L255.13,189.83L255.26,190.77L255.38,191.70L255.51,192.63L255.64,193.55L255.77,194.46L255.90,195.36L256.03,196.26L256.16,197.15L256.31,198.04L256.50,198.92L256.55,199.09L256.60,199.27L256.65,199.44L256.71,199.62L256.77,199.79L256.84,199.97L256.91,200.14L257.00,200.31L257.09,200.48L257.20,200.66L257.33,200.83L257.48,201.00L257.67,201.16L257.95,201.33L258.45,201.50L258.45,201.50L258.95,201.34L259.23,201.18L259.42,201.03L259.57,200.87L259.70,200.72L259.81,200.57L259.90,200.42L259.99,200.27L260.06,200.12L260.13,199.97L260.19,199.82L260.25,199.67L260.30,199.52L260.35,199.37L260.39,199.22L260.59,198.49L260.74,197.75L260.87,197.02L261.00,196.30L261.13,195.58L261.26,194.88L261.39,194.17L261.52,193.47L261.64,192.78L261.77,192.10L261.89,191.41L262.02,190.74L262.16,190.08L262.31,189.42L262.46,188.78L262.62,188.15L262.79,187.52L262.95,186.90L263.09,186.28L263.23,185.66L263.35,185.04L263.47,184.42L263.59,183.81L263.69,183.19L263.79,182.58L263.89,181.97L264.00,181.36L262.61,180.41L261.22,179.40L259.84,178.35L258.45,177.27L257.06,176.16L255.68,175.03L254.29,173.89ZM264.84,181.93L264.95,182.68L265.05,183.43L265.14,184.18L265.25,184.93L265.37,185.67L265.49,186.41L265.61,187.15L265.75,187.89L265.89,188.63L266.05,189.37L266.22,190.10L266.38,190.82L266.53,191.54L266.68,192.24L266.82,192.94L266.95,193.63L267.07,194.31L267.20,194.99L267.32,195.66L267.45,196.32L267.58,196.98L267.71,197.64L267.84,198.29L267.97,198.93L268.10,199.57L268.25,200.21L268.44,200.84L268.49,200.97L268.54,201.09L268.59,201.22L268.65,201.34L268.71,201.47L268.78,201.59L268.85,201.72L268.94,201.84L269.03,201.97L269.14,202.09L269.27,202.21L269.42,202.33L269.61,202.46L269.89,202.58L270.39,202.69L270.39,202.69L270.89,202.58L271.17,202.47L271.36,202.36L271.51,202.25L271.64,202.14L271.75,202.03L271.84,201.92L271.93,201.81L272.00,201.71L272.07,201.60L272.13,201.49L272.19,201.38L272.24,201.28L272.29,201.17L272.33,201.07L272.53,200.54L272.68,200.01L272.81,199.49L272.94,198.97L273.07,198.46L273.20,197.95L273.33,197.45L273.46,196.95L273.58,196.45L273.71,195.96L273.83,195.47L273.96,194.99L274.10,194.51L274.25,194.04L274.40,193.58L274.56,193.13L274.73,192.68L274.89,192.24L275.03,191.79L275.17,191.35L275.29,190.91L275.41,190.46L275.53,190.02L275.63,189.58L275.73,189.14L275.83,188.71L275.94,188.28L274.55,187.58L273.16,186.86L271.78,186.11L270.39,185.33L269.00,184.52L267.62,183.68L266.23,182.82ZM276.78,188.68L276.89,189.24L276.99,189.78L277.08,190.32L277.19,190.87L277.31,191.41L277.43,191.95L277.55,192.49L277.69,193.03L277.83,193.57L277.99,194.10L278.16,194.64L278.32,195.16L278.47,195.68L278.62,196.20L278.76,196.70L278.89,197.21L279.01,197.70L279.14,198.19L279.26,198.68L279.39,199.17L279.52,199.65L279.65,200.13L279.78,200.60L279.91,201.07L280.04,201.54L280.19,202.01L280.38,202.47L280.43,202.56L280.48,202.65L280.53,202.74L280.59,202.83L280.65,202.93L280.72,203.02L280.79,203.11L280.88,203.20L280.97,203.29L281.08,203.38L281.21,203.47L281.36,203.56L281.55,203.65L281.83,203.73L282.33,203.82L282.33,203.82L282.83,203.74L283.11,203.65L283.30,203.57L283.45,203.49L283.58,203.41L283.69,203.33L283.78,203.25L283.87,203.17L283.94,203.09L284.01,203.02L284.07,202.94L284.13,202.86L284.18,202.78L284.23,202.70L284.27,202.63L284.47,202.24L284.62,201.85L284.75,201.47L284.88,201.09L285.01,200.71L285.14,200.34L285.27,199.97L285.40,199.60L285.52,199.24L285.65,198.88L285.77,198.52L285.90,198.17L286.04,197.82L286.19,197.47L286.34,197.14L286.50,196.80L286.67,196.48L286.83,196.15L286.97,195.83L287.11,195.50L287.23,195.18L287.35,194.86L287.47,194.54L287.57,194.22L287.67,193.90L287.77,193.58L287.88,193.26L286.49,192.74L285.10,192.20L283.72,191.66L282.33,191.11L280.94,190.53L279.56,189.94L278.17,189.33ZM288.72,193.59L288.83,193.99L288.93,194.38L289.02,194.77L289.13,195.17L289.25,195.56L289.37,195.95L289.49,196.35L289.63,196.74L289.77,197.13L289.93,197.51L290.10,197.90L290.26,198.28L290.41,198.66L290.56,199.03L290.70,199.40L290.83,199.76L290.95,200.11L291.08,200.47L291.20,200.82L291.33,201.16L291.46,201.51L291.59,201.85L291.72,202.18L291.85,202.52L291.98,202.85L292.13,203.18L292.32,203.50L292.37,203.57L292.42,203.63L292.47,203.70L292.53,203.76L292.59,203.82L292.66,203.89L292.73,203.95L292.82,204.02L292.91,204.08L293.02,204.14L293.15,204.21L293.30,204.27L293.49,204.33L293.77,204.39L294.27,204.45L294.27,204.45L294.77,204.39L295.05,204.34L295.24,204.28L295.39,204.23L295.52,204.17L295.63,204.12L295.72,204.07L295.81,204.01L295.88,203.96L295.95,203.91L296.01,203.85L296.07,203.80L296.12,203.75L296.17,203.70L296.21,203.65L296.41,203.39L296.56,203.13L296.69,202.87L296.82,202.62L296.95,202.37L297.08,202.12L297.21,201.88L297.34,201.64L297.46,201.40L297.59,201.16L297.71,200.92L297.84,200.69L297.98,200.46L298.13,200.24L298.28,200.02L298.44,199.81L298.61,199.59L298.77,199.38L298.91,199.17L299.05,198.96L299.17,198.75L299.29,198.54L299.41,198.33L299.51,198.13L299.61,197.92L299.71,197.71L299.81,197.50L298.43,197.11L297.04,196.68L295.66,196.21L294.27,195.70L292.88,195.18L291.50,194.65L290.11,194.12ZM300.66,197.72L300.77,197.98L300.87,198.24L300.96,198.50L301.07,198.75L301.19,199.01L301.31,199.27L301.43,199.52L301.57,199.78L301.71,200.03L301.87,200.29L302.04,200.54L302.20,200.79L302.35,201.03L302.50,201.27L302.64,201.51L302.77,201.75L302.89,201.98L303.02,202.22L303.14,202.45L303.27,202.68L303.40,202.90L303.53,203.13L303.66,203.35L303.79,203.58L303.92,203.80L304.07,204.02L304.26,204.23L304.31,204.28L304.36,204.32L304.41,204.36L304.47,204.41L304.53,204.45L304.60,204.49L304.67,204.54L304.76,204.58L304.85,204.62L304.96,204.66L305.09,204.71L305.24,204.75L305.43,204.79L305.71,204.83L306.21,204.87L306.21,204.87L306.71,204.83L306.99,204.79L307.18,204.76L307.33,204.72L307.46,204.68L307.57,204.64L307.66,204.60L307.75,204.56L307.82,204.53L307.89,204.49L307.95,204.45L308.01,204.41L308.06,204.38L308.11,204.34L308.15,204.30L308.35,204.12L308.50,203.93L308.63,203.75L308.76,203.56L308.89,203.38L309.02,203.20L309.15,203.02L309.28,202.85L309.40,202.67L309.53,202.50L309.65,202.32L309.78,202.15L309.92,201.98L310.07,201.81L310.22,201.65L310.38,201.49L310.55,201.33L310.71,201.17L310.85,201.01L310.99,200.85L311.11,200.69L311.23,200.54L311.35,200.38L311.45,200.22L311.55,200.06L311.65,199.91L311.75,199.76L310.37,199.52L308.98,199.30L307.60,199.07L306.21,198.83L304.82,198.58L303.44,198.32L302.05,198.03ZM312.60,199.90L312.71,200.09L312.81,200.28L312.90,200.46L313.01,200.65L313.13,200.84L313.25,201.02L313.37,201.21L313.51,201.39L313.65,201.58L313.81,201.76L313.98,201.95L314.14,202.13L314.29,202.30L314.44,202.48L314.58,202.65L314.71,202.83L314.83,202.99L314.96,203.16L315.08,203.33L315.21,203.50L315.34,203.66L315.47,203.82L315.60,203.98L315.73,204.14L315.86,204.30L316.01,204.46L316.20,204.61L316.25,204.64L316.30,204.68L316.35,204.71L316.41,204.74L316.47,204.77L316.54,204.80L316.61,204.83L316.70,204.86L316.79,204.89L316.90,204.92L317.03,204.95L317.18,204.98L317.37,205.01L317.65,205.04L318.15,205.07L318.15,205.07L318.65,205.04L318.93,205.01L319.12,204.99L319.27,204.96L319.40,204.93L319.51,204.91L319.60,204.88L319.69,204.86L319.76,204.83L319.83,204.80L319.89,204.78L319.95,204.75L320.00,204.73L320.05,204.70L320.09,204.68L320.29,204.55L320.44,204.43L320.57,204.30L320.70,204.18L320.83,204.06L320.96,203.94L321.09,203.82L321.22,203.70L321.34,203.58L321.47,203.47L321.59,203.36L321.72,203.24L321.86,203.13L322.01,203.03L322.16,202.92L322.32,202.82L322.49,202.72L322.65,202.62L322.79,202.52L322.93,202.42L323.00,202.31L323.00,202.20L323.00,202.08L323.00,201.97L323.00,201.85L323.00,201.74L323.00,201.62L322.31,201.51L320.92,201.29L319.54,201.07L318.15,200.84L316.76,200.61L315.38,200.38L313.99,200.14Z" fill="#1680f4" stroke="none"/><rect x="49.6" y="0.3" width="273.4" height="204.85" fill="none" stroke="#000" stroke-width="1"/><line x1="281.5" y1="10.8" x2="312.5" y2="10.8" stroke="#f0501e" stroke-width="1.7"/><line x1="281.5" y1="26.5" x2="312.4" y2="26.5" stroke="#1680f4" stroke-width="0.5"/><rect x="216.1" y="42.2" width="98.4" height="73.89999999999999" fill="#fff" stroke="none"/><path d="M217.15,56.61V101.81M219.02,56.61V101.28M220.89,56.61V100.75M222.76,56.61V100.23M224.63,56.61V99.70M226.50,56.61V99.17M228.37,56.61V98.65M230.24,56.61V98.12M232.11,56.61V97.59M233.98,56.61V97.07M235.85,56.61V96.54M237.72,56.61V95.74M239.59,56.61V94.94M241.46,56.61V94.13M243.33,56.61V93.32M245.20,56.61V92.51M247.07,56.61V91.71M248.94,56.61V90.90M250.81,56.61V90.09M252.68,56.61V89.28M254.55,56.61V88.48M256.42,56.61V87.47M258.29,56.61V86.21M260.16,56.61V84.94M262.03,56.61V83.68M263.90,56.61V82.41M265.77,56.61V81.15M267.64,56.61V79.89M269.51,56.61V78.62M271.38,56.61V77.36M273.25,56.61V76.09M275.12,56.61V74.83M276.99,56.61V73.44M278.86,56.61V72.03M280.73,56.61V70.63M282.60,56.61V69.23M284.47,56.61V67.82M286.34,56.61V66.55M288.21,56.61V65.36M290.08,56.61V64.17M291.95,56.61V62.97M293.82,56.61V61.78M295.69,56.61V60.80M297.56,56.61V60.17M299.43,56.61V59.54M301.30,56.61V58.91M303.17,56.61V58.27M305.04,56.61V57.70M306.91,56.61V57.56" fill="none" stroke="#f0501e" stroke-opacity="0.7" stroke-width="0.75"/><path d="M216.67,56.61V101.81M218.54,56.61V101.28M220.41,56.61V100.75M222.28,56.61V100.23M224.15,56.61V99.70M226.02,56.61V99.17M227.89,56.61V98.65M229.76,56.61V98.12M231.63,56.61V97.59M233.50,56.61V97.07M235.37,56.61V96.54M237.24,56.61V95.74M239.11,56.61V94.94M240.98,56.61V94.13M242.85,56.61V93.32M244.72,56.61V92.51M246.59,56.61V91.71M248.46,56.61V90.90M250.33,56.61V90.09M252.20,56.61V89.28M254.07,56.61V88.48M255.94,56.61V87.47M257.81,56.61V86.21M259.68,56.61V84.94M261.55,56.61V83.68M263.42,56.61V82.41M265.29,56.61V81.15M267.16,56.61V79.89M269.03,56.61V78.62M270.90,56.61V77.36M272.77,56.61V76.09M274.64,56.61V74.83M276.51,56.61V73.44M278.38,56.61V72.03M280.25,56.61V70.63M282.12,56.61V69.23M283.99,56.61V67.82M285.86,56.61V66.55M287.73,56.61V65.36M289.60,56.61V64.17M291.47,56.61V62.97M293.34,56.61V61.78M295.21,56.61V60.80M297.08,56.61V60.17M298.95,56.61V59.54M300.82,56.61V58.91M302.69,56.61V58.27M304.56,56.61V57.70M306.43,56.61V57.56" fill="none" stroke="#2a48c8" stroke-opacity="0.95" stroke-width="0.5"/><path d="M300.72,57.20L314.50,56.98" fill="none" stroke="#b06090" stroke-width="0.7"/><rect x="216.1" y="42.2" width="98.4" height="73.89999999999999" fill="none" stroke="#000" stroke-width="0.7"/><g stroke="#000" stroke-width="0.5" fill="none"><line x1="216.10" y1="116.1" x2="216.10" y2="114.6"/><line x1="216.10" y1="42.2" x2="216.10" y2="43.7"/><line x1="216.1" y1="116.10" x2="217.6" y2="116.10"/><line x1="314.5" y1="116.10" x2="313.0" y2="116.10"/><line x1="235.78" y1="116.1" x2="235.78" y2="114.6"/><line x1="235.78" y1="42.2" x2="235.78" y2="43.7"/><line x1="216.1" y1="101.32" x2="217.6" y2="101.32"/><line x1="314.5" y1="101.32" x2="313.0" y2="101.32"/><line x1="255.46" y1="116.1" x2="255.46" y2="114.6"/><line x1="255.46" y1="42.2" x2="255.46" y2="43.7"/><line x1="216.1" y1="86.54" x2="217.6" y2="86.54"/><line x1="314.5" y1="86.54" x2="313.0" y2="86.54"/><line x1="275.14" y1="116.1" x2="275.14" y2="114.6"/><line x1="275.14" y1="42.2" x2="275.14" y2="43.7"/><line x1="216.1" y1="71.76" x2="217.6" y2="71.76"/><line x1="314.5" y1="71.76" x2="313.0" y2="71.76"/><line x1="294.82" y1="116.1" x2="294.82" y2="114.6"/><line x1="294.82" y1="42.2" x2="294.82" y2="43.7"/><line x1="216.1" y1="56.98" x2="217.6" y2="56.98"/><line x1="314.5" y1="56.98" x2="313.0" y2="56.98"/><line x1="314.50" y1="116.1" x2="314.50" y2="114.6"/><line x1="314.50" y1="42.2" x2="314.50" y2="43.7"/><line x1="216.1" y1="42.20" x2="217.6" y2="42.20"/><line x1="314.5" y1="42.20" x2="313.0" y2="42.20"/></g><g font-family="Liberation Serif, serif" fill="#000"><text x="44.6" y="214.15" font-size="16.5" text-anchor="end">0.0</text><text x="44.6" y="176.85" font-size="16.5" text-anchor="end">0.2</text><text x="44.6" y="139.55" font-size="16.5" text-anchor="end">0.4</text><text x="44.6" y="102.25" font-size="16.5" text-anchor="end">0.6</text><text x="44.6" y="64.95" font-size="16.5" text-anchor="end">0.8</text><text x="44.6" y="27.65" font-size="16.5" text-anchor="end">1.0</text><text x="51.60" y="224.8" font-size="16.5" text-anchor="middle">0</text><text x="97.17" y="224.8" font-size="16.5" text-anchor="middle">5</text><text x="142.73" y="224.8" font-size="16.5" text-anchor="middle">10</text><text x="188.30" y="224.8" font-size="16.5" text-anchor="middle">15</text><text x="234.37" y="224.8" font-size="16.5" text-anchor="middle">20</text><text x="279.93" y="224.8" font-size="16.5" text-anchor="middle">25</text><text x="325.50" y="224.8" font-size="16.5" text-anchor="middle">30</text><text y="239.5" font-size="17"><tspan x="160.8">2</tspan><tspan x="169.6" font-family="Liberation Sans, sans-serif" font-size="19">τ</tspan><tspan x="182.7">(</tspan><tspan x="187.8" font-family="Liberation Sans, sans-serif" font-style="italic" font-size="18">μ</tspan><tspan x="197.6">s</tspan><tspan x="205.4">)</tspan></text><text y="259.8"><tspan x="172.3" font-size="20.5" dy="2.0">(</tspan><tspan x="179.0" dy="-2.0" font-size="18.3" textLength="10.3" lengthAdjust="spacingAndGlyphs">d</tspan><tspan x="190.3" dy="2.0" font-size="20.5">)</tspan></text><text transform="translate(13.9,204.9) rotate(-90)" font-size="17" textLength="76" lengthAdjust="spacingAndGlyphs">Hahn-echo</text><text transform="translate(13.9,125.0) rotate(-90)" font-size="17" textLength="74.5" lengthAdjust="spacingAndGlyphs">Coherence</text><text transform="translate(13.9,46.9) rotate(-90)" font-size="17" textLength="47.2" lengthAdjust="spacingAndGlyphs"><tspan dy="-1.9">|</tspan><tspan dy="1.9">L(2</tspan><tspan font-family="Liberation Sans, sans-serif" font-size="19">τ</tspan>)<tspan dy="-1.9">|</tspan></text><text x="273.8" y="17.6" font-size="13.7" text-anchor="end" textLength="118" lengthAdjust="spacingAndGlyphs">full spin Hamiltonian</text><text x="274.7" y="34.4" font-size="13.7" text-anchor="end" textLength="69.5" lengthAdjust="spacingAndGlyphs"><tspan dy="-0.6">|</tspan><tspan dy="0.6">L</tspan><tspan font-size="11.3" dy="3.3">V</tspan><tspan dy="-3.3">*L</tspan><tspan font-size="11.3" dy="3.3">N</tspan><tspan dy="-3.3">*L</tspan><tspan font-size="11.3" dy="3.3">H</tspan><tspan dy="-3.9">|</tspan></text><text x="214.6" y="119.40" font-size="6.6" text-anchor="end">0.0</text><text x="214.6" y="104.62" font-size="6.6" text-anchor="end">0.2</text><text x="214.6" y="89.84" font-size="6.6" text-anchor="end">0.4</text><text x="214.6" y="75.06" font-size="6.6" text-anchor="end">0.6</text><text x="214.6" y="60.28" font-size="6.6" text-anchor="end">0.8</text><text x="214.6" y="45.50" font-size="6.6" text-anchor="end">1.0</text><text x="217.30" y="122.6" font-size="6.6" text-anchor="middle">10</text><text x="236.98" y="122.6" font-size="6.6" text-anchor="middle">10.1</text><text x="256.66" y="122.6" font-size="6.6" text-anchor="middle">10.2</text><text x="276.34" y="122.6" font-size="6.6" text-anchor="middle">10.3</text><text x="296.02" y="122.6" font-size="6.6" text-anchor="middle">10.4</text><text x="315.70" y="122.6" font-size="6.6" text-anchor="middle">10.5</text></g></svg>
</body></html>
